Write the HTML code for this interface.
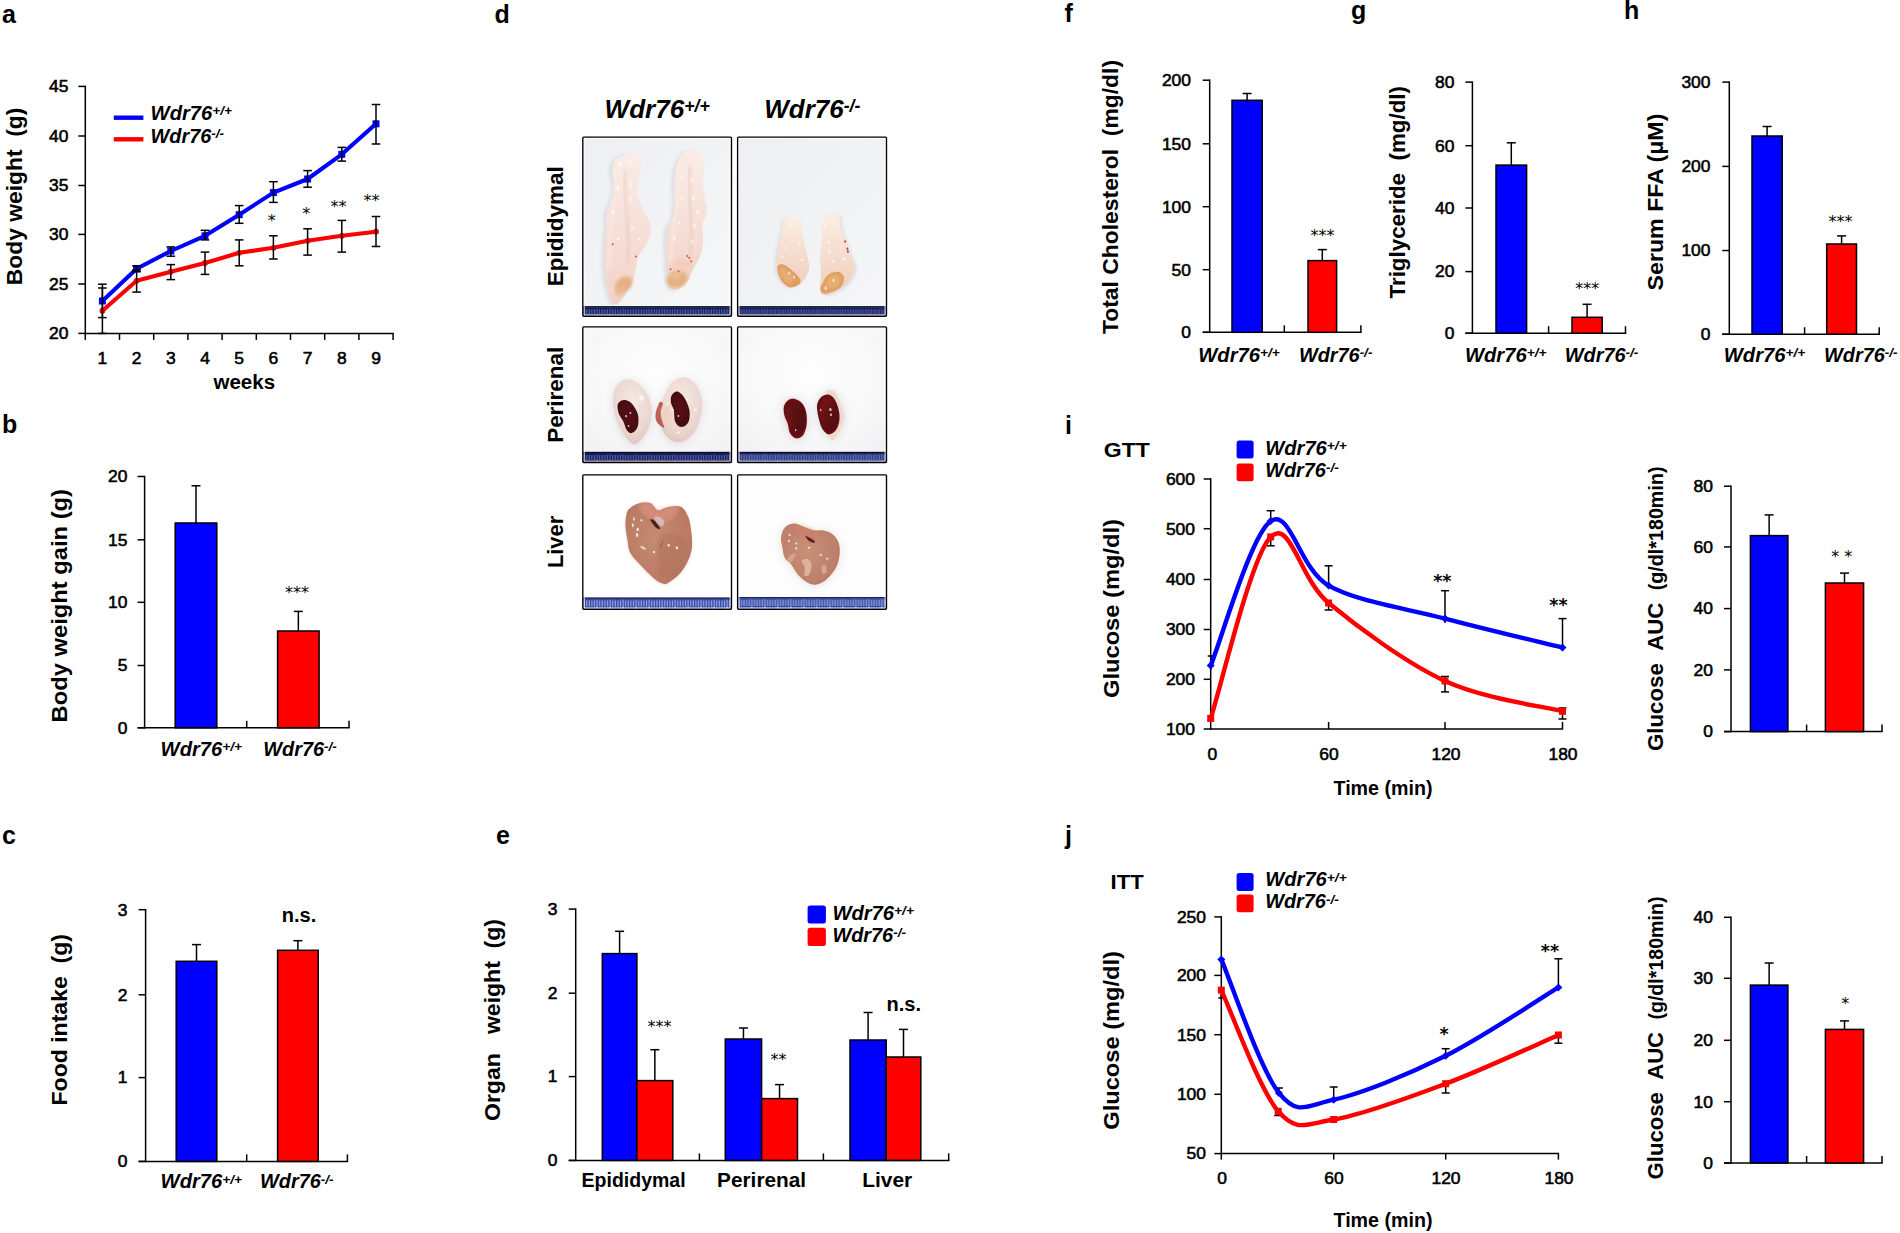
<!DOCTYPE html>
<html lang="en"><head><meta charset="utf-8"><title>Figure</title>
<style>
html,body{margin:0;padding:0;background:#fff;}
body{width:1900px;height:1233px;overflow:hidden;}
svg{display:block;font-family:'Liberation Sans', Arial, sans-serif;fill:#000;}
</style></head><body>
<svg width="1900" height="1233" viewBox="0 0 1900 1233">
<rect x="0" y="0" width="1900" height="1233" fill="#fff"/>
<text x="2" y="22.5" font-size="25" font-weight="bold">a</text>
<text x="22.2" y="285.2" font-size="22" font-weight="bold" transform="rotate(-90 22.2 285.2)" textLength="177.6" lengthAdjust="spacingAndGlyphs">Body weight  (g)</text>
<line x1="85.3" y1="85.65" x2="85.3" y2="334.15" stroke="#000" stroke-width="1.5" stroke-linecap="butt"/>
<line x1="78.3" y1="86.4" x2="85.3" y2="86.4" stroke="#000" stroke-width="1.5" stroke-linecap="butt"/>
<text x="68.5" y="92.2" font-size="16.4" text-anchor="end" textLength="19.4" lengthAdjust="spacingAndGlyphs" stroke="#000" stroke-width="0.55">45</text>
<line x1="78.3" y1="136" x2="85.3" y2="136" stroke="#000" stroke-width="1.5" stroke-linecap="butt"/>
<text x="68.5" y="141.8" font-size="16.4" text-anchor="end" textLength="19.4" lengthAdjust="spacingAndGlyphs" stroke="#000" stroke-width="0.55">40</text>
<line x1="78.3" y1="185.5" x2="85.3" y2="185.5" stroke="#000" stroke-width="1.5" stroke-linecap="butt"/>
<text x="68.5" y="191.3" font-size="16.4" text-anchor="end" textLength="19.4" lengthAdjust="spacingAndGlyphs" stroke="#000" stroke-width="0.55">35</text>
<line x1="78.3" y1="234.4" x2="85.3" y2="234.4" stroke="#000" stroke-width="1.5" stroke-linecap="butt"/>
<text x="68.5" y="240.2" font-size="16.4" text-anchor="end" textLength="19.4" lengthAdjust="spacingAndGlyphs" stroke="#000" stroke-width="0.55">30</text>
<line x1="78.3" y1="284" x2="85.3" y2="284" stroke="#000" stroke-width="1.5" stroke-linecap="butt"/>
<text x="68.5" y="289.8" font-size="16.4" text-anchor="end" textLength="19.4" lengthAdjust="spacingAndGlyphs" stroke="#000" stroke-width="0.55">25</text>
<line x1="78.3" y1="333.4" x2="85.3" y2="333.4" stroke="#000" stroke-width="1.5" stroke-linecap="butt"/>
<text x="68.5" y="339.2" font-size="16.4" text-anchor="end" textLength="19.4" lengthAdjust="spacingAndGlyphs" stroke="#000" stroke-width="0.55">20</text>
<line x1="84.7" y1="333.4" x2="393.8" y2="333.4" stroke="#000" stroke-width="1.5" stroke-linecap="butt"/>
<line x1="85.3" y1="333.4" x2="85.3" y2="339.9" stroke="#000" stroke-width="1.5" stroke-linecap="butt"/>
<line x1="119.5" y1="333.4" x2="119.5" y2="339.9" stroke="#000" stroke-width="1.5" stroke-linecap="butt"/>
<line x1="153.7" y1="333.4" x2="153.7" y2="339.9" stroke="#000" stroke-width="1.5" stroke-linecap="butt"/>
<line x1="187.9" y1="333.4" x2="187.9" y2="339.9" stroke="#000" stroke-width="1.5" stroke-linecap="butt"/>
<line x1="222.1" y1="333.4" x2="222.1" y2="339.9" stroke="#000" stroke-width="1.5" stroke-linecap="butt"/>
<line x1="256.3" y1="333.4" x2="256.3" y2="339.9" stroke="#000" stroke-width="1.5" stroke-linecap="butt"/>
<line x1="290.5" y1="333.4" x2="290.5" y2="339.9" stroke="#000" stroke-width="1.5" stroke-linecap="butt"/>
<line x1="324.7" y1="333.4" x2="324.7" y2="339.9" stroke="#000" stroke-width="1.5" stroke-linecap="butt"/>
<line x1="358.9" y1="333.4" x2="358.9" y2="339.9" stroke="#000" stroke-width="1.5" stroke-linecap="butt"/>
<line x1="393.1" y1="333.4" x2="393.1" y2="339.9" stroke="#000" stroke-width="1.5" stroke-linecap="butt"/>
<text x="102.4" y="363.5" font-size="16.4" text-anchor="middle" textLength="9.7" lengthAdjust="spacingAndGlyphs" stroke="#000" stroke-width="0.55">1</text>
<text x="136.6" y="363.5" font-size="16.4" text-anchor="middle" textLength="9.7" lengthAdjust="spacingAndGlyphs" stroke="#000" stroke-width="0.55">2</text>
<text x="170.8" y="363.5" font-size="16.4" text-anchor="middle" textLength="9.7" lengthAdjust="spacingAndGlyphs" stroke="#000" stroke-width="0.55">3</text>
<text x="205" y="363.5" font-size="16.4" text-anchor="middle" textLength="9.7" lengthAdjust="spacingAndGlyphs" stroke="#000" stroke-width="0.55">4</text>
<text x="239.2" y="363.5" font-size="16.4" text-anchor="middle" textLength="9.7" lengthAdjust="spacingAndGlyphs" stroke="#000" stroke-width="0.55">5</text>
<text x="273.4" y="363.5" font-size="16.4" text-anchor="middle" textLength="9.7" lengthAdjust="spacingAndGlyphs" stroke="#000" stroke-width="0.55">6</text>
<text x="307.6" y="363.5" font-size="16.4" text-anchor="middle" textLength="9.7" lengthAdjust="spacingAndGlyphs" stroke="#000" stroke-width="0.55">7</text>
<text x="341.8" y="363.5" font-size="16.4" text-anchor="middle" textLength="9.7" lengthAdjust="spacingAndGlyphs" stroke="#000" stroke-width="0.55">8</text>
<text x="376" y="363.5" font-size="16.4" text-anchor="middle" textLength="9.7" lengthAdjust="spacingAndGlyphs" stroke="#000" stroke-width="0.55">9</text>
<text x="244.3" y="388.6" font-size="20.5" font-weight="bold" text-anchor="middle" textLength="61.5" lengthAdjust="spacingAndGlyphs">weeks</text>
<polyline fill="none" stroke="#ff0000" stroke-width="4.1" stroke-linejoin="round" stroke-linecap="round" points="102.4,310.7 136.6,280.8 170.8,271.7 205,263 239.2,252.8 273.4,247.8 307.6,240.8 341.8,235.8 376,231.7"/>
<circle cx="102.4" cy="310.7" r="2.9" fill="#ff0000"/>
<circle cx="136.6" cy="280.8" r="2.9" fill="#ff0000"/>
<circle cx="170.8" cy="271.7" r="2.9" fill="#ff0000"/>
<circle cx="205" cy="263" r="2.9" fill="#ff0000"/>
<circle cx="239.2" cy="252.8" r="2.9" fill="#ff0000"/>
<circle cx="273.4" cy="247.8" r="2.9" fill="#ff0000"/>
<circle cx="307.6" cy="240.8" r="2.9" fill="#ff0000"/>
<circle cx="341.8" cy="235.8" r="2.9" fill="#ff0000"/>
<circle cx="376" cy="231.7" r="2.9" fill="#ff0000"/>
<polyline fill="none" stroke="#0000ff" stroke-width="4.1" stroke-linejoin="round" stroke-linecap="round" points="102.4,301 136.6,268.7 170.8,251 205,235.8 239.2,214.7 273.4,192.6 307.6,179 341.8,154.3 376,123.8"/>
<rect x="98.9" y="297.5" width="7" height="7" fill="#0000ff"/>
<rect x="133.1" y="265.2" width="7" height="7" fill="#0000ff"/>
<rect x="167.3" y="247.5" width="7" height="7" fill="#0000ff"/>
<rect x="201.5" y="232.3" width="7" height="7" fill="#0000ff"/>
<rect x="235.7" y="211.2" width="7" height="7" fill="#0000ff"/>
<rect x="269.9" y="189.1" width="7" height="7" fill="#0000ff"/>
<rect x="304.1" y="175.5" width="7" height="7" fill="#0000ff"/>
<rect x="338.3" y="150.8" width="7" height="7" fill="#0000ff"/>
<rect x="372.5" y="120.3" width="7" height="7" fill="#0000ff"/>
<line x1="102.4" y1="284.2" x2="102.4" y2="317.6" stroke="#000" stroke-width="1.5" stroke-linecap="butt"/>
<line x1="98.1" y1="284.2" x2="106.7" y2="284.2" stroke="#000" stroke-width="1.5" stroke-linecap="butt"/>
<line x1="98.1" y1="317.6" x2="106.7" y2="317.6" stroke="#000" stroke-width="1.5" stroke-linecap="butt"/>
<line x1="136.6" y1="265.8" x2="136.6" y2="271.7" stroke="#000" stroke-width="1.5" stroke-linecap="butt"/>
<line x1="132.3" y1="265.8" x2="140.9" y2="265.8" stroke="#000" stroke-width="1.5" stroke-linecap="butt"/>
<line x1="132.3" y1="271.7" x2="140.9" y2="271.7" stroke="#000" stroke-width="1.5" stroke-linecap="butt"/>
<line x1="170.8" y1="246.9" x2="170.8" y2="256.2" stroke="#000" stroke-width="1.5" stroke-linecap="butt"/>
<line x1="166.5" y1="246.9" x2="175.1" y2="246.9" stroke="#000" stroke-width="1.5" stroke-linecap="butt"/>
<line x1="166.5" y1="256.2" x2="175.1" y2="256.2" stroke="#000" stroke-width="1.5" stroke-linecap="butt"/>
<line x1="205" y1="230.3" x2="205" y2="239.9" stroke="#000" stroke-width="1.5" stroke-linecap="butt"/>
<line x1="200.7" y1="230.3" x2="209.3" y2="230.3" stroke="#000" stroke-width="1.5" stroke-linecap="butt"/>
<line x1="200.7" y1="239.9" x2="209.3" y2="239.9" stroke="#000" stroke-width="1.5" stroke-linecap="butt"/>
<line x1="239.2" y1="205.6" x2="239.2" y2="223.3" stroke="#000" stroke-width="1.5" stroke-linecap="butt"/>
<line x1="234.9" y1="205.6" x2="243.5" y2="205.6" stroke="#000" stroke-width="1.5" stroke-linecap="butt"/>
<line x1="234.9" y1="223.3" x2="243.5" y2="223.3" stroke="#000" stroke-width="1.5" stroke-linecap="butt"/>
<line x1="273.4" y1="181.7" x2="273.4" y2="202.4" stroke="#000" stroke-width="1.5" stroke-linecap="butt"/>
<line x1="269.1" y1="181.7" x2="277.7" y2="181.7" stroke="#000" stroke-width="1.5" stroke-linecap="butt"/>
<line x1="269.1" y1="202.4" x2="277.7" y2="202.4" stroke="#000" stroke-width="1.5" stroke-linecap="butt"/>
<line x1="307.6" y1="170.6" x2="307.6" y2="187.2" stroke="#000" stroke-width="1.5" stroke-linecap="butt"/>
<line x1="303.3" y1="170.6" x2="311.9" y2="170.6" stroke="#000" stroke-width="1.5" stroke-linecap="butt"/>
<line x1="303.3" y1="187.2" x2="311.9" y2="187.2" stroke="#000" stroke-width="1.5" stroke-linecap="butt"/>
<line x1="341.8" y1="147.4" x2="341.8" y2="161.1" stroke="#000" stroke-width="1.5" stroke-linecap="butt"/>
<line x1="337.5" y1="147.4" x2="346.1" y2="147.4" stroke="#000" stroke-width="1.5" stroke-linecap="butt"/>
<line x1="337.5" y1="161.1" x2="346.1" y2="161.1" stroke="#000" stroke-width="1.5" stroke-linecap="butt"/>
<line x1="376" y1="104.5" x2="376" y2="144" stroke="#000" stroke-width="1.5" stroke-linecap="butt"/>
<line x1="371.7" y1="104.5" x2="380.3" y2="104.5" stroke="#000" stroke-width="1.5" stroke-linecap="butt"/>
<line x1="371.7" y1="144" x2="380.3" y2="144" stroke="#000" stroke-width="1.5" stroke-linecap="butt"/>
<line x1="102.4" y1="288" x2="102.4" y2="333.4" stroke="#000" stroke-width="1.5" stroke-linecap="butt"/>
<line x1="98.1" y1="288" x2="106.7" y2="288" stroke="#000" stroke-width="1.5" stroke-linecap="butt"/>
<line x1="98.1" y1="333.4" x2="106.7" y2="333.4" stroke="#000" stroke-width="1.5" stroke-linecap="butt"/>
<line x1="136.6" y1="269.9" x2="136.6" y2="292.1" stroke="#000" stroke-width="1.5" stroke-linecap="butt"/>
<line x1="132.3" y1="269.9" x2="140.9" y2="269.9" stroke="#000" stroke-width="1.5" stroke-linecap="butt"/>
<line x1="132.3" y1="292.1" x2="140.9" y2="292.1" stroke="#000" stroke-width="1.5" stroke-linecap="butt"/>
<line x1="170.8" y1="264.6" x2="170.8" y2="279.6" stroke="#000" stroke-width="1.5" stroke-linecap="butt"/>
<line x1="166.5" y1="264.6" x2="175.1" y2="264.6" stroke="#000" stroke-width="1.5" stroke-linecap="butt"/>
<line x1="166.5" y1="279.6" x2="175.1" y2="279.6" stroke="#000" stroke-width="1.5" stroke-linecap="butt"/>
<line x1="205" y1="252.1" x2="205" y2="274.4" stroke="#000" stroke-width="1.5" stroke-linecap="butt"/>
<line x1="200.7" y1="252.1" x2="209.3" y2="252.1" stroke="#000" stroke-width="1.5" stroke-linecap="butt"/>
<line x1="200.7" y1="274.4" x2="209.3" y2="274.4" stroke="#000" stroke-width="1.5" stroke-linecap="butt"/>
<line x1="239.2" y1="239.9" x2="239.2" y2="265.8" stroke="#000" stroke-width="1.5" stroke-linecap="butt"/>
<line x1="234.9" y1="239.9" x2="243.5" y2="239.9" stroke="#000" stroke-width="1.5" stroke-linecap="butt"/>
<line x1="234.9" y1="265.8" x2="243.5" y2="265.8" stroke="#000" stroke-width="1.5" stroke-linecap="butt"/>
<line x1="273.4" y1="235.8" x2="273.4" y2="259" stroke="#000" stroke-width="1.5" stroke-linecap="butt"/>
<line x1="269.1" y1="235.8" x2="277.7" y2="235.8" stroke="#000" stroke-width="1.5" stroke-linecap="butt"/>
<line x1="269.1" y1="259" x2="277.7" y2="259" stroke="#000" stroke-width="1.5" stroke-linecap="butt"/>
<line x1="307.6" y1="228.8" x2="307.6" y2="255.1" stroke="#000" stroke-width="1.5" stroke-linecap="butt"/>
<line x1="303.3" y1="228.8" x2="311.9" y2="228.8" stroke="#000" stroke-width="1.5" stroke-linecap="butt"/>
<line x1="303.3" y1="255.1" x2="311.9" y2="255.1" stroke="#000" stroke-width="1.5" stroke-linecap="butt"/>
<line x1="341.8" y1="220.4" x2="341.8" y2="252.1" stroke="#000" stroke-width="1.5" stroke-linecap="butt"/>
<line x1="337.5" y1="220.4" x2="346.1" y2="220.4" stroke="#000" stroke-width="1.5" stroke-linecap="butt"/>
<line x1="337.5" y1="252.1" x2="346.1" y2="252.1" stroke="#000" stroke-width="1.5" stroke-linecap="butt"/>
<line x1="376" y1="216.5" x2="376" y2="246.5" stroke="#000" stroke-width="1.5" stroke-linecap="butt"/>
<line x1="371.7" y1="216.5" x2="380.3" y2="216.5" stroke="#000" stroke-width="1.5" stroke-linecap="butt"/>
<line x1="371.7" y1="246.5" x2="380.3" y2="246.5" stroke="#000" stroke-width="1.5" stroke-linecap="butt"/>
<line x1="113.8" y1="117.7" x2="143.4" y2="117.7" stroke="#0000ff" stroke-width="4.4" stroke-linecap="butt"/>
<line x1="113.8" y1="139.3" x2="143.4" y2="139.3" stroke="#ff0000" stroke-width="4.4" stroke-linecap="butt"/>
<text x="150.6" y="119.5" font-size="19.5" font-weight="bold" font-style="italic" textLength="81.5" lengthAdjust="spacingAndGlyphs">Wdr76<tspan dy="-4.68" font-size="13.26">+/+</tspan></text>
<text x="150.6" y="143.1" font-size="19.5" font-weight="bold" font-style="italic" textLength="73.5" lengthAdjust="spacingAndGlyphs">Wdr76<tspan dy="-4.68" font-size="13.26">-/-</tspan></text>
<text x="271.7" y="225.76" font-size="16" text-anchor="middle" font-family="DejaVu Sans, Liberation Sans, sans-serif">*</text>
<text x="306.2" y="218.56" font-size="16" text-anchor="middle" font-family="DejaVu Sans, Liberation Sans, sans-serif">*</text>
<text x="338.5" y="211.66" font-size="16" text-anchor="middle" font-family="DejaVu Sans, Liberation Sans, sans-serif">**</text>
<text x="371.6" y="206.46" font-size="16" text-anchor="middle" font-family="DejaVu Sans, Liberation Sans, sans-serif">**</text>
<text x="2" y="433" font-size="25" font-weight="bold">b</text>
<text x="66.7" y="722.5" font-size="22" font-weight="bold" transform="rotate(-90 66.7 722.5)" textLength="233.5" lengthAdjust="spacingAndGlyphs">Body weight gain (g)</text>
<line x1="144.6" y1="475.75" x2="144.6" y2="728.55" stroke="#000" stroke-width="1.5" stroke-linecap="butt"/>
<line x1="137.6" y1="476.5" x2="144.6" y2="476.5" stroke="#000" stroke-width="1.5" stroke-linecap="butt"/>
<text x="127.5" y="482.3" font-size="16.4" text-anchor="end" textLength="19.4" lengthAdjust="spacingAndGlyphs" stroke="#000" stroke-width="0.55">20</text>
<line x1="137.6" y1="539.8" x2="144.6" y2="539.8" stroke="#000" stroke-width="1.5" stroke-linecap="butt"/>
<text x="127.5" y="545.6" font-size="16.4" text-anchor="end" textLength="19.4" lengthAdjust="spacingAndGlyphs" stroke="#000" stroke-width="0.55">15</text>
<line x1="137.6" y1="602.3" x2="144.6" y2="602.3" stroke="#000" stroke-width="1.5" stroke-linecap="butt"/>
<text x="127.5" y="608.1" font-size="16.4" text-anchor="end" textLength="19.4" lengthAdjust="spacingAndGlyphs" stroke="#000" stroke-width="0.55">10</text>
<line x1="137.6" y1="665.5" x2="144.6" y2="665.5" stroke="#000" stroke-width="1.5" stroke-linecap="butt"/>
<text x="127.5" y="671.3" font-size="16.4" text-anchor="end" textLength="9.7" lengthAdjust="spacingAndGlyphs" stroke="#000" stroke-width="0.55">5</text>
<line x1="137.6" y1="727.8" x2="144.6" y2="727.8" stroke="#000" stroke-width="1.5" stroke-linecap="butt"/>
<text x="127.5" y="733.6" font-size="16.4" text-anchor="end" textLength="9.7" lengthAdjust="spacingAndGlyphs" stroke="#000" stroke-width="0.55">0</text>
<line x1="137.6" y1="727.8" x2="349.75" y2="727.8" stroke="#000" stroke-width="1.5" stroke-linecap="butt"/>
<line x1="246.7" y1="720.8" x2="246.7" y2="727.8" stroke="#000" stroke-width="1.5" stroke-linecap="butt"/>
<line x1="349" y1="720.8" x2="349" y2="727.8" stroke="#000" stroke-width="1.5" stroke-linecap="butt"/>
<line x1="196" y1="485.8" x2="196" y2="523" stroke="#000" stroke-width="1.5" stroke-linecap="butt"/>
<line x1="191.5" y1="485.8" x2="200.5" y2="485.8" stroke="#000" stroke-width="1.5" stroke-linecap="butt"/>
<rect x="175.2" y="523" width="41.6" height="204.8" fill="#0000ff" stroke="#000" stroke-width="1.5" rx="0"/>
<line x1="298.35" y1="611.4" x2="298.35" y2="631" stroke="#000" stroke-width="1.5" stroke-linecap="butt"/>
<line x1="293.85" y1="611.4" x2="302.85" y2="611.4" stroke="#000" stroke-width="1.5" stroke-linecap="butt"/>
<rect x="277.6" y="631" width="41.5" height="96.8" fill="#ff0000" stroke="#000" stroke-width="1.5" rx="0"/>
<text x="297" y="598.36" font-size="16" text-anchor="middle" font-family="DejaVu Sans, Liberation Sans, sans-serif">***</text>
<text x="160.6" y="755.8" font-size="20" font-weight="bold" font-style="italic" textLength="81.5" lengthAdjust="spacingAndGlyphs">Wdr76<tspan dy="-4.8" font-size="13.6">+/+</tspan></text>
<text x="263.3" y="755.8" font-size="20" font-weight="bold" font-style="italic" textLength="73.5" lengthAdjust="spacingAndGlyphs">Wdr76<tspan dy="-4.8" font-size="13.6">-/-</tspan></text>
<text x="2" y="843.5" font-size="25" font-weight="bold">c</text>
<text x="66.7" y="1105.5" font-size="22" font-weight="bold" transform="rotate(-90 66.7 1105.5)" textLength="171.5" lengthAdjust="spacingAndGlyphs">Food intake  (g)</text>
<line x1="145.6" y1="908.95" x2="145.6" y2="1162.15" stroke="#000" stroke-width="1.5" stroke-linecap="butt"/>
<line x1="138.6" y1="909.7" x2="145.6" y2="909.7" stroke="#000" stroke-width="1.5" stroke-linecap="butt"/>
<text x="127.5" y="915.5" font-size="16.4" text-anchor="end" textLength="9.7" lengthAdjust="spacingAndGlyphs" stroke="#000" stroke-width="0.55">3</text>
<line x1="138.6" y1="994.8" x2="145.6" y2="994.8" stroke="#000" stroke-width="1.5" stroke-linecap="butt"/>
<text x="127.5" y="1000.6" font-size="16.4" text-anchor="end" textLength="9.7" lengthAdjust="spacingAndGlyphs" stroke="#000" stroke-width="0.55">2</text>
<line x1="138.6" y1="1077.6" x2="145.6" y2="1077.6" stroke="#000" stroke-width="1.5" stroke-linecap="butt"/>
<text x="127.5" y="1083.4" font-size="16.4" text-anchor="end" textLength="9.7" lengthAdjust="spacingAndGlyphs" stroke="#000" stroke-width="0.55">1</text>
<line x1="138.6" y1="1161.4" x2="145.6" y2="1161.4" stroke="#000" stroke-width="1.5" stroke-linecap="butt"/>
<text x="127.5" y="1167.2" font-size="16.4" text-anchor="end" textLength="9.7" lengthAdjust="spacingAndGlyphs" stroke="#000" stroke-width="0.55">0</text>
<line x1="138.6" y1="1161.4" x2="348.15" y2="1161.4" stroke="#000" stroke-width="1.5" stroke-linecap="butt"/>
<line x1="246.7" y1="1154.4" x2="246.7" y2="1161.4" stroke="#000" stroke-width="1.5" stroke-linecap="butt"/>
<line x1="347.4" y1="1154.4" x2="347.4" y2="1161.4" stroke="#000" stroke-width="1.5" stroke-linecap="butt"/>
<line x1="196.5" y1="944.6" x2="196.5" y2="961.3" stroke="#000" stroke-width="1.5" stroke-linecap="butt"/>
<line x1="192" y1="944.6" x2="201" y2="944.6" stroke="#000" stroke-width="1.5" stroke-linecap="butt"/>
<rect x="176.2" y="961.3" width="40.6" height="200.1" fill="#0000ff" stroke="#000" stroke-width="1.5" rx="0"/>
<line x1="297.9" y1="940.7" x2="297.9" y2="950.3" stroke="#000" stroke-width="1.5" stroke-linecap="butt"/>
<line x1="293.4" y1="940.7" x2="302.4" y2="940.7" stroke="#000" stroke-width="1.5" stroke-linecap="butt"/>
<rect x="277.6" y="950.3" width="40.6" height="211.1" fill="#ff0000" stroke="#000" stroke-width="1.5" rx="0"/>
<text x="299" y="922.3" font-size="20" font-weight="bold" text-anchor="middle">n.s.</text>
<text x="160.6" y="1188.3" font-size="20" font-weight="bold" font-style="italic" textLength="81.5" lengthAdjust="spacingAndGlyphs">Wdr76<tspan dy="-4.8" font-size="13.6">+/+</tspan></text>
<text x="260" y="1188.3" font-size="20" font-weight="bold" font-style="italic" textLength="73.5" lengthAdjust="spacingAndGlyphs">Wdr76<tspan dy="-4.8" font-size="13.6">-/-</tspan></text>
<text x="494.5" y="23" font-size="25" font-weight="bold">d</text>
<text x="604.6" y="118.1" font-size="26.3" font-weight="bold" font-style="italic" textLength="105.2" lengthAdjust="spacingAndGlyphs">Wdr76<tspan dy="-6.31" font-size="17.88">+/+</tspan></text>
<text x="764.3" y="118.1" font-size="26.3" font-weight="bold" font-style="italic" textLength="96" lengthAdjust="spacingAndGlyphs">Wdr76<tspan dy="-6.31" font-size="17.88">-/-</tspan></text>
<text x="562.7" y="286.3" font-size="22.8" font-weight="bold" transform="rotate(-90 562.7 286.3)" textLength="120" lengthAdjust="spacingAndGlyphs">Epididymal</text>
<text x="562.7" y="442.8" font-size="22.8" font-weight="bold" transform="rotate(-90 562.7 442.8)" textLength="96" lengthAdjust="spacingAndGlyphs">Perirenal</text>
<text x="562.7" y="568.1" font-size="22.8" font-weight="bold" transform="rotate(-90 562.7 568.1)" textLength="52.3" lengthAdjust="spacingAndGlyphs">Liver</text>
<defs>
<filter id="b1" x="-20%" y="-20%" width="140%" height="140%"><feGaussianBlur stdDeviation="0.7"/></filter>
<filter id="b2" x="-30%" y="-30%" width="160%" height="160%"><feGaussianBlur stdDeviation="1.6"/></filter>
<filter id="b4" x="-50%" y="-50%" width="200%" height="200%"><feGaussianBlur stdDeviation="4"/></filter>
<linearGradient id="bgA" x1="0" y1="0" x2="1" y2="1"><stop offset="0" stop-color="#edeff2"/><stop offset="0.5" stop-color="#f2f3f5"/><stop offset="1" stop-color="#f7f8f9"/></linearGradient>
<linearGradient id="bgB" x1="0" y1="0" x2="1" y2="1"><stop offset="0" stop-color="#edeff1"/><stop offset="0.6" stop-color="#f2f3f5"/><stop offset="1" stop-color="#f7f7f8"/></linearGradient>
<radialGradient id="bgC" cx="0.5" cy="0.35" r="0.75"><stop offset="0" stop-color="#fdfdfd"/><stop offset="0.7" stop-color="#f7f7f8"/><stop offset="1" stop-color="#f0f0f2"/></radialGradient>
<linearGradient id="fat1" x1="0" y1="0" x2="0" y2="1"><stop offset="0" stop-color="#faece7"/><stop offset="0.5" stop-color="#f6e0d9"/><stop offset="1" stop-color="#f2d2c8"/></linearGradient>
<linearGradient id="fat2" x1="0" y1="0" x2="0" y2="1"><stop offset="0" stop-color="#faefe4"/><stop offset="0.45" stop-color="#f6dfd1"/><stop offset="1" stop-color="#f1cdbb"/></linearGradient>
<radialGradient id="tan" cx="0.45" cy="0.4" r="0.7"><stop offset="0" stop-color="#e9b184"/><stop offset="1" stop-color="#d98f5e"/></radialGradient>
<radialGradient id="tan2" cx="0.45" cy="0.4" r="0.7"><stop offset="0" stop-color="#e8a86c"/><stop offset="1" stop-color="#cf7a3c"/></radialGradient>
<radialGradient id="pfat" cx="0.5" cy="0.35" r="0.75"><stop offset="0" stop-color="#f5e9e3"/><stop offset="0.6" stop-color="#ecd8cf"/><stop offset="1" stop-color="#dcc0b5"/></radialGradient>
<radialGradient id="kid" cx="0.5" cy="0.45" r="0.7"><stop offset="0" stop-color="#5a1116"/><stop offset="1" stop-color="#3d0a0e"/></radialGradient>
<radialGradient id="kid2" cx="0.45" cy="0.4" r="0.75"><stop offset="0" stop-color="#7c151a"/><stop offset="0.7" stop-color="#5e0f13"/><stop offset="1" stop-color="#6e1a1a"/></radialGradient>
<radialGradient id="liv" cx="0.45" cy="0.45" r="0.7"><stop offset="0" stop-color="#c68b72"/><stop offset="0.7" stop-color="#ba7b63"/><stop offset="1" stop-color="#b07059"/></radialGradient>
<radialGradient id="liv2" cx="0.45" cy="0.45" r="0.7"><stop offset="0" stop-color="#c99078"/><stop offset="0.7" stop-color="#bd806a"/><stop offset="1" stop-color="#b2725c"/></radialGradient>
<pattern id="rulA" x="0" y="0" width="13" height="12" patternUnits="userSpaceOnUse"><rect width="13" height="12" fill="#161d52"/><g fill="#5f70c2"><rect x="0.6" y="1.5" width="1" height="7.5"/><rect x="3.2" y="2" width="1" height="5"/><rect x="5.8" y="2" width="1" height="5"/><rect x="8.4" y="2" width="1" height="5"/><rect x="11" y="2" width="1" height="5"/></g></pattern>
<pattern id="rulA2" x="0" y="0" width="13" height="12" patternUnits="userSpaceOnUse"><rect width="13" height="12" fill="#1a2262"/><g fill="#7f92e0"><rect x="0.6" y="1" width="1.1" height="8.5"/><rect x="3.2" y="1.5" width="1.1" height="6"/><rect x="5.8" y="1.5" width="1.1" height="6"/><rect x="8.4" y="1.5" width="1.1" height="6"/><rect x="11" y="1.5" width="1.1" height="6"/></g></pattern>
<pattern id="rulB" x="0" y="0" width="13" height="12" patternUnits="userSpaceOnUse"><rect width="13" height="12" fill="#2c3e98"/><g fill="#a3b2f0"><rect x="0.6" y="1" width="1.2" height="9.5"/><rect x="3.2" y="1.5" width="1.2" height="6.5"/><rect x="5.8" y="1.5" width="1.2" height="6.5"/><rect x="8.4" y="1.5" width="1.2" height="6.5"/><rect x="11" y="1.5" width="1.2" height="6.5"/></g></pattern>
</defs>
<clipPath id="cp1"><rect x="582.8" y="137.1" width="148.7" height="179.2"/></clipPath>
<g clip-path="url(#cp1)">
<rect x="582.8" y="137.1" width="148.7" height="179.2" fill="url(#bgA)"/>
<path d="M632.1,153.9C635.1,154.5 637,155.4 637.7,159.5C638.3,163.6 636.6,172.7 636.1,178.5C635.5,184.3 633.8,189 634.5,194.3C635.1,199.6 638,205.4 640,210.1C642,214.8 645,218.8 646.4,222.8C647.7,226.7 648.6,229.9 647.9,233.8C647.3,237.8 644.5,242.5 642.4,246.5C640.3,250.4 636.9,253.6 635.3,257.6C633.6,261.5 633.5,266 632.6,270.2C631.7,274.4 631.1,279.2 629.7,282.9C628.3,286.6 626.2,289.2 624.2,292.4C622.2,295.5 620,299.7 617.9,301.9C615.8,304 613.4,305.6 611.6,305C609.7,304.5 608.3,302.7 606.8,298.7C605.4,294.7 603.8,286.8 602.8,281.3C601.9,275.8 601.3,272.1 601.3,265.5C601.2,258.9 602,248.3 602.4,241.7C602.7,235.2 603.1,230.7 603.3,225.9C603.5,221.2 602.6,217.7 603.6,213.3C604.7,208.8 608.3,203.5 609.7,199C611,194.5 611.6,190.6 611.6,186.4C611.5,182.2 609.2,177.7 609.2,173.7C609.2,169.8 609.8,165.5 611.6,162.6C613.3,159.7 616,157.8 619.5,156.3C622.9,154.9 629.1,153.4 632.1,153.9Z" fill="#c4cad4" filter="url(#b2)" opacity="0.45" />
<path d="M689.1,150.8C692.2,150.8 696.6,151.4 698.6,154.7C700.5,158 700.7,165.3 700.9,170.6C701.2,175.8 699.9,181.1 700.1,186.4C700.4,191.6 701.9,197.7 702.5,202.2C703.2,206.7 704.6,209.3 704.1,213.3C703.6,217.2 700,221.2 699.4,225.9C698.7,230.7 700.5,236.5 700.1,241.7C699.7,247 698.7,252.8 697,257.6C695.3,262.3 691.7,266.5 689.9,270.2C688,273.9 687.6,276.8 685.9,279.7C684.2,282.6 682.2,285.8 679.6,287.6C676.9,289.5 672.5,291.6 670.1,290.8C667.7,290 666.1,287.1 665,282.9C664,278.7 664.1,272.3 663.8,265.5C663.4,258.6 662.8,247.8 663,241.7C663.1,235.7 663.4,232.8 664.5,229.1C665.7,225.4 668.6,224.1 669.8,219.6C671,215.1 671.5,208.3 671.7,202.2C671.9,196.1 670.6,189 670.9,183.2C671.1,177.4 671.8,172.1 673.2,167.4C674.7,162.6 676.9,157.5 679.6,154.7C682.2,152 685.9,150.8 689.1,150.8Z" fill="#c4cad4" filter="url(#b2)" opacity="0.45" />
<path d="M635.1,152.9C638.1,153.5 640,154.4 640.7,158.5C641.3,162.6 639.6,171.7 639.1,177.5C638.5,183.3 636.8,188 637.5,193.3C638.1,198.6 641,204.4 643,209.1C645,213.8 648,217.8 649.4,221.8C650.7,225.7 651.6,228.9 650.9,232.8C650.3,236.8 647.5,241.5 645.4,245.5C643.3,249.4 639.9,252.6 638.3,256.6C636.6,260.5 636.5,265 635.6,269.2C634.7,273.4 634.1,278.2 632.7,281.9C631.3,285.6 629.2,288.2 627.2,291.4C625.2,294.5 623,298.7 620.9,300.9C618.8,303 616.4,304.6 614.6,304C612.7,303.5 611.3,301.7 609.8,297.7C608.4,293.7 606.8,285.8 605.8,280.3C604.9,274.8 604.3,271.1 604.3,264.5C604.2,257.9 605,247.3 605.4,240.7C605.7,234.2 606.1,229.7 606.3,224.9C606.5,220.2 605.6,216.7 606.6,212.3C607.7,207.8 611.3,202.5 612.7,198C614,193.5 614.6,189.6 614.6,185.4C614.5,181.2 612.2,176.7 612.2,172.7C612.2,168.8 612.8,164.5 614.6,161.6C616.3,158.7 619,156.8 622.5,155.3C625.9,153.9 632.1,152.4 635.1,152.9Z" fill="url(#fat1)" filter="url(#b1)" />
<path d="M692.1,149.8C695.2,149.8 699.6,150.4 701.6,153.7C703.5,157 703.7,164.3 703.9,169.6C704.2,174.8 702.9,180.1 703.1,185.4C703.4,190.6 704.9,196.7 705.5,201.2C706.2,205.7 707.6,208.3 707.1,212.3C706.6,216.2 703,220.2 702.4,224.9C701.7,229.7 703.5,235.5 703.1,240.7C702.7,246 701.7,251.8 700,256.6C698.3,261.3 694.7,265.5 692.9,269.2C691,272.9 690.6,275.8 688.9,278.7C687.2,281.6 685.2,284.8 682.6,286.6C679.9,288.5 675.5,290.6 673.1,289.8C670.7,289 669.1,286.1 668,281.9C667,277.7 667.1,271.3 666.8,264.5C666.4,257.6 665.8,246.8 666,240.7C666.1,234.7 666.4,231.8 667.5,228.1C668.7,224.4 671.6,223.1 672.8,218.6C674,214.1 674.5,207.3 674.7,201.2C674.9,195.1 673.6,188 673.9,182.2C674.1,176.4 674.8,171.1 676.2,166.4C677.7,161.6 679.9,156.5 682.6,153.7C685.2,151 688.9,149.8 692.1,149.8Z" fill="url(#fat1)" filter="url(#b1)" />
<ellipse cx="623.8" cy="284.3" rx="9.5" ry="7" fill="#e4b080" transform="rotate(-38 623.8 284.3)" filter="url(#b2)" opacity="0.95"/>
<ellipse cx="620" cy="291" rx="6" ry="4.5" fill="#e8b88e" transform="rotate(-50 620 291)" filter="url(#b2)" opacity="0.8"/>
<ellipse cx="677.2" cy="279" rx="11" ry="8.5" fill="#e4b07e" transform="rotate(-25 677.2 279)" filter="url(#b2)" opacity="0.95"/>
<ellipse cx="676" cy="276" rx="5" ry="3.5" fill="#edc39c" transform="rotate(-25 676 276)" filter="url(#b2)" opacity="0.8"/>
<path d="M625,170 C622,200 632,230 628,262" stroke="#e6bba8" stroke-width="3" fill="none" filter="url(#b2)" opacity="0.4"/>
<path d="M690,165 C686,200 696,228 690,258" stroke="#e6bba8" stroke-width="3" fill="none" filter="url(#b2)" opacity="0.4"/>
<path d="M617,165 C612,200 610,235 608,270" stroke="#f9ece4" stroke-width="3" fill="none" filter="url(#b2)" opacity="0.6"/>
<path d="M682,160 C678,195 674,225 670,262" stroke="#f9ece4" stroke-width="3" fill="none" filter="url(#b2)" opacity="0.6"/>
<path d="M671.5,264.5C672,262.4 676.2,258.9 679.4,258.1C682.6,257.4 688.4,258.1 690.5,259.7C692.6,261.3 692.9,265.5 692.1,267.6C691.3,269.7 688.4,271.9 685.7,272.4C683.1,272.9 678.6,272.1 676.2,270.8C673.9,269.5 671,266.6 671.5,264.5Z" fill="#f3cdbb" filter="url(#b2)" opacity="0.8" />
<ellipse cx="619.3" cy="164" rx="1.5" ry="2.7" fill="#fffaf6" transform="rotate(-20 619.3 164)" filter="url(#b1)" opacity="0.8"/>
<ellipse cx="629.6" cy="162.4" rx="1.1" ry="2.3" fill="#fffaf6" transform="rotate(-15 629.6 162.4)" filter="url(#b1)" opacity="0.8"/>
<ellipse cx="631.2" cy="184.6" rx="1.1" ry="2.7" fill="#fffaf6" filter="url(#b1)" opacity="0.8"/>
<ellipse cx="617.7" cy="187.7" rx="1.3" ry="2.3" fill="#fffaf6" transform="rotate(-30 617.7 187.7)" filter="url(#b1)" opacity="0.8"/>
<ellipse cx="630.4" cy="199.6" rx="1.1" ry="1.9" fill="#fffaf6" filter="url(#b1)" opacity="0.8"/>
<ellipse cx="613" cy="212.3" rx="1.5" ry="1.9" fill="#fffaf6" filter="url(#b1)" opacity="0.8"/>
<ellipse cx="632" cy="228.9" rx="1.9" ry="1.5" fill="#fffaf6" transform="rotate(-30 632 228.9)" filter="url(#b1)" opacity="0.8"/>
<ellipse cx="639.1" cy="239.2" rx="1.7" ry="1.3" fill="#fffaf6" transform="rotate(-20 639.1 239.2)" filter="url(#b1)" opacity="0.8"/>
<ellipse cx="618.5" cy="239.2" rx="1.9" ry="1.1" fill="#fffaf6" filter="url(#b1)" opacity="0.8"/>
<ellipse cx="681.8" cy="176.7" rx="1.3" ry="1.9" fill="#fffaf6" transform="rotate(-30 681.8 176.7)" filter="url(#b1)" opacity="0.8"/>
<ellipse cx="692.1" cy="180.6" rx="1.3" ry="1.7" fill="#fffaf6" transform="rotate(-30 692.1 180.6)" filter="url(#b1)" opacity="0.8"/>
<ellipse cx="693.3" cy="198.3" rx="1.3" ry="2.3" fill="#fffaf6" transform="rotate(-20 693.3 198.3)" filter="url(#b1)" opacity="0.8"/>
<ellipse cx="681.8" cy="198.8" rx="1.1" ry="1.7" fill="#fffaf6" filter="url(#b1)" opacity="0.8"/>
<ellipse cx="697.6" cy="211.9" rx="1.5" ry="1.9" fill="#fffaf6" transform="rotate(-20 697.6 211.9)" filter="url(#b1)" opacity="0.8"/>
<ellipse cx="694.4" cy="225.7" rx="1.7" ry="1.5" fill="#fffaf6" transform="rotate(-20 694.4 225.7)" filter="url(#b1)" opacity="0.8"/>
<ellipse cx="674.4" cy="238.4" rx="1.1" ry="2.3" fill="#fffaf6" transform="rotate(10 674.4 238.4)" filter="url(#b1)" opacity="0.8"/>
<ellipse cx="692.1" cy="241.5" rx="0.9" ry="1.9" fill="#fffaf6" transform="rotate(20 692.1 241.5)" filter="url(#b1)" opacity="0.8"/>
<ellipse cx="679.4" cy="223.3" rx="1.1" ry="1.5" fill="#fffaf6" filter="url(#b1)" opacity="0.8"/>
<ellipse cx="612.7" cy="244.2" rx="1" ry="1" fill="#d63a3a" filter="url(#b1)" opacity="0.85"/>
<ellipse cx="635.9" cy="256.6" rx="1" ry="1" fill="#d63a3a" filter="url(#b1)" opacity="0.85"/>
<ellipse cx="687.3" cy="256.1" rx="1" ry="1" fill="#d63a3a" filter="url(#b1)" opacity="0.85"/>
<ellipse cx="689.2" cy="258.1" rx="1" ry="1" fill="#d63a3a" filter="url(#b1)" opacity="0.85"/>
<ellipse cx="670.6" cy="269.2" rx="1" ry="1" fill="#d63a3a" filter="url(#b1)" opacity="0.85"/>
<ellipse cx="678.6" cy="271.3" rx="1" ry="1" fill="#d63a3a" filter="url(#b1)" opacity="0.85"/>
<ellipse cx="691.3" cy="261.3" rx="1" ry="1" fill="#d63a3a" filter="url(#b1)" opacity="0.85"/>
<rect x="582.8" y="306.1" width="148.7" height="1.6" fill="#0b0f2a"/>
<g transform="translate(582.8 307.3)"><rect x="0" y="0" width="148.7" height="9" fill="url(#rulA)" filter="url(#b1)"/></g>
</g>
<rect x="584.1" y="138.4" width="146.1" height="176.6" fill="none" stroke="#fff" stroke-width="1.2" opacity="0.85"/>
<rect x="582.8" y="137.1" width="148.7" height="179.2" fill="none" stroke="#000" stroke-width="1.35" rx="1"/>
<clipPath id="cp2"><rect x="737.6" y="137.1" width="148.9" height="179.2"/></clipPath>
<g clip-path="url(#cp2)">
<rect x="737.6" y="137.1" width="148.9" height="179.2" fill="url(#bgB)"/>
<path d="M788.9,216.4C791.4,216.2 795,217 796.8,219.6C798.7,222.2 799.1,228 800,232.2C800.9,236.5 801.4,240.7 802.4,244.9C803.3,249.1 804.7,253.6 805.5,257.6C806.3,261.5 807.4,265.2 807.1,268.6C806.8,272.1 805.5,275.4 803.9,278.1C802.4,280.9 800.2,283.7 797.6,285.2C795,286.8 791,288 788.1,287.6C785.2,287.2 782.3,285.2 780.2,282.9C778.1,280.5 776.4,277.1 775.5,273.4C774.5,269.7 774.4,265.2 774.7,260.7C774.9,256.2 776.1,251.2 777,246.5C778,241.7 779.4,236.5 780.2,232.2C781,228 780.3,223.8 781.8,221.2C783.2,218.5 786.4,216.7 788.9,216.4Z" fill="#c4cad4" filter="url(#b2)" opacity="0.45" />
<path d="M833.2,214.1C835.6,214.1 839.6,214.7 841.2,217.2C842.7,219.7 841.7,225 842.7,229.1C843.8,233.2 845.9,237.3 847.5,241.7C849.1,246.2 850.7,251.8 852.2,256C853.8,260.2 856.7,263.4 857,267.1C857.2,270.7 855.7,274.7 853.8,278.1C852,281.6 849.1,285 845.9,287.6C842.7,290.3 838.3,292.6 834.8,293.9C831.4,295.3 827.4,296.3 825.3,295.5C823.2,294.7 822.6,292.9 822.2,289.2C821.8,285.5 823,278.7 823,273.4C823,268.1 822,262.8 822.2,257.6C822.3,252.3 823.4,247 823.8,241.7C824.2,236.5 824,230 824.5,225.9C825.1,221.8 825.5,219.2 826.9,217.2C828.4,215.2 830.9,214.1 833.2,214.1Z" fill="#c4cad4" filter="url(#b2)" opacity="0.45" />
<path d="M790.9,215.4C793.4,215.2 797,216 798.8,218.6C800.7,221.2 801.1,227 802,231.2C802.9,235.5 803.4,239.7 804.4,243.9C805.3,248.1 806.7,252.6 807.5,256.6C808.3,260.5 809.4,264.2 809.1,267.6C808.8,271.1 807.5,274.4 805.9,277.1C804.4,279.9 802.2,282.7 799.6,284.2C797,285.8 793,287 790.1,286.6C787.2,286.2 784.3,284.2 782.2,281.9C780.1,279.5 778.4,276.1 777.5,272.4C776.5,268.7 776.4,264.2 776.7,259.7C776.9,255.2 778.1,250.2 779,245.5C780,240.7 781.4,235.5 782.2,231.2C783,227 782.3,222.8 783.8,220.2C785.2,217.5 788.4,215.7 790.9,215.4Z" fill="url(#fat2)" filter="url(#b1)" />
<path d="M831.2,213.1C833.6,213.1 837.6,213.7 839.2,216.2C840.7,218.7 839.7,224 840.7,228.1C841.8,232.2 843.9,236.3 845.5,240.7C847.1,245.2 848.7,250.8 850.2,255C851.8,259.2 854.7,262.4 855,266.1C855.2,269.7 853.7,273.7 851.8,277.1C850,280.6 847.1,284 843.9,286.6C840.7,289.3 836.3,291.6 832.8,292.9C829.4,294.3 825.4,295.3 823.3,294.5C821.2,293.7 820.6,291.9 820.2,288.2C819.8,284.5 821,277.7 821,272.4C821,267.1 820,261.8 820.2,256.6C820.3,251.3 821.4,246 821.8,240.7C822.2,235.5 822,229 822.5,224.9C823.1,220.8 823.5,218.2 824.9,216.2C826.4,214.2 828.9,213.1 831.2,213.1Z" fill="url(#fat2)" filter="url(#b1)" />
<path d="M777.7,265.9C778.6,264.3 781.3,263.8 783.9,264.7C786.4,265.6 790.4,268.9 793.1,271.3C795.8,273.6 799.1,276.8 800,279C801,281.1 800.6,282.9 798.9,284.4C797.2,285.8 792.7,287.7 790,287.4C787.4,287.2 785,285 783.1,282.8C781.2,280.6 779.4,277.2 778.5,274.3C777.6,271.5 776.8,267.5 777.7,265.9Z" fill="#de9d5e" filter="url(#b1)" opacity="0.95" />
<path d="M780,268.9C780.4,267.5 782.8,268 784.6,268.9C786.4,269.8 789.4,272.4 790.8,274.3C792.2,276.3 793.6,279.1 793.1,280.5C792.6,281.9 789.5,283.3 787.7,282.8C785.9,282.3 783.6,279.7 782.3,277.4C781,275.1 779.6,270.4 780,268.9Z" fill="#e8b276" filter="url(#b2)" opacity="0.8" />
<path d="M825.5,277.4C826.9,275.9 829.3,273.7 831.6,272.8C833.9,271.9 837.3,271.3 839.3,272C841.4,272.8 843.6,275.1 844,277.4C844.3,279.7 843.3,283.6 841.6,285.9C840,288.2 836.9,290 833.9,291.3C831,292.6 826.2,294 823.9,293.6C821.6,293.2 820.4,290.9 820.2,289C820.1,287 822.3,284 823.2,282C824,280.1 824.1,279 825.5,277.4Z" fill="#df9f60" filter="url(#b1)" opacity="0.95" />
<path d="M828.6,279C829.7,277.3 832.1,275.5 833.9,275.1C835.7,274.7 838.6,275.1 839.3,276.6C840.1,278.2 839.9,282.4 838.6,284.4C837.3,286.3 833.6,288.1 831.6,288.2C829.7,288.3 827.5,286.7 827,285.1C826.5,283.6 827.4,280.6 828.6,279Z" fill="#e9b378" filter="url(#b2)" opacity="0.8" />
<ellipse cx="784.6" cy="247.9" rx="0.9" ry="1.5" fill="#fffaf6" filter="url(#b1)" opacity="0.8"/>
<ellipse cx="782.2" cy="256.6" rx="0.9" ry="1.5" fill="#fffaf6" filter="url(#b1)" opacity="0.8"/>
<ellipse cx="799.6" cy="243.1" rx="1.1" ry="1.5" fill="#fffaf6" filter="url(#b1)" opacity="0.8"/>
<ellipse cx="802" cy="259.7" rx="1.3" ry="1.5" fill="#fffaf6" filter="url(#b1)" opacity="0.8"/>
<ellipse cx="790.9" cy="224.9" rx="1.5" ry="1.1" fill="#fffaf6" filter="url(#b1)" opacity="0.8"/>
<ellipse cx="789.3" cy="273.2" rx="0.9" ry="1.5" fill="#fffaf6" filter="url(#b1)" opacity="0.8"/>
<ellipse cx="794.1" cy="277.1" rx="0.9" ry="1.5" fill="#fffaf6" filter="url(#b1)" opacity="0.8"/>
<ellipse cx="824.9" cy="226.5" rx="1.1" ry="1.5" fill="#fffaf6" filter="url(#b1)" opacity="0.8"/>
<ellipse cx="828.9" cy="242.3" rx="1.1" ry="1.7" fill="#fffaf6" filter="url(#b1)" opacity="0.8"/>
<ellipse cx="829.4" cy="251.8" rx="1.1" ry="1.5" fill="#fffaf6" filter="url(#b1)" opacity="0.8"/>
<ellipse cx="832.8" cy="261.3" rx="1.3" ry="1.3" fill="#fffaf6" filter="url(#b1)" opacity="0.8"/>
<ellipse cx="843.9" cy="258.9" rx="1.3" ry="1.3" fill="#fffaf6" filter="url(#b1)" opacity="0.8"/>
<ellipse cx="833.6" cy="223.3" rx="1.3" ry="1.1" fill="#fffaf6" filter="url(#b1)" opacity="0.8"/>
<ellipse cx="833.6" cy="280.3" rx="1.1" ry="1.5" fill="#fffaf6" filter="url(#b1)" opacity="0.8"/>
<ellipse cx="825.7" cy="288.2" rx="1.1" ry="1.9" fill="#fffaf6" filter="url(#b1)" opacity="0.8"/>
<ellipse cx="845.2" cy="241.5" rx="1" ry="1.3" fill="#c8302c" filter="url(#b1)" opacity="0.9"/>
<ellipse cx="847.4" cy="248.7" rx="1" ry="1.3" fill="#c8302c" filter="url(#b1)" opacity="0.9"/>
<ellipse cx="847.9" cy="251.5" rx="1" ry="1.3" fill="#c8302c" filter="url(#b1)" opacity="0.9"/>
<rect x="737.6" y="306.1" width="148.9" height="1.6" fill="#0b0f2a"/>
<g transform="translate(737.6 307.3)"><rect x="0" y="0" width="148.9" height="9" fill="url(#rulA)" filter="url(#b1)"/></g>
</g>
<rect x="738.9" y="138.4" width="146.3" height="176.6" fill="none" stroke="#fff" stroke-width="1.2" opacity="0.85"/>
<rect x="737.6" y="137.1" width="148.9" height="179.2" fill="none" stroke="#000" stroke-width="1.35" rx="1"/>
<clipPath id="cp3"><rect x="582.8" y="326.8" width="148.7" height="135.7"/></clipPath>
<g clip-path="url(#cp3)">
<rect x="582.8" y="326.8" width="148.7" height="135.7" fill="url(#bgC)"/>
<path d="M628.5,380.9C631.6,381.1 635,382.1 638.3,384.8C641.5,387.5 645.8,392.3 648,396.9C650.2,401.6 651.6,407.5 651.7,412.8C651.8,418 650.3,423.9 648.6,428.6C646.9,433.2 643.9,437.9 641.3,440.8C638.8,443.6 636.3,446.4 633.4,445.6C630.5,444.8 626.5,439.9 623.7,435.9C620.8,431.8 618.1,426.1 616.4,421.3C614.6,416.4 613.7,411.1 613.3,406.7C612.9,402.2 612.8,398.4 613.9,394.5C615.1,390.7 617.6,385.8 620,383.6C622.5,381.3 625.5,380.7 628.5,380.9Z" fill="#c8c8cc" filter="url(#b4)" opacity="0.6" />
<path d="M683.3,378.7C686.7,378.3 689.4,380.5 691.8,382.3C694.3,384.2 696.2,386 697.9,389.6C699.6,393.3 701.8,399.4 702.2,404.2C702.6,409.1 701.7,414 700.3,418.8C699,423.7 696.9,429.6 694.3,433.4C691.6,437.3 687.8,440.3 684.5,442C681.3,443.6 677.9,444 674.8,443.2C671.6,442.4 667.8,439.5 665.7,437.1C663.5,434.7 662.8,430.8 661.6,428.6C660.5,426.4 659.1,427.4 659,423.7C658.8,420.1 659.8,411.3 660.8,406.7C661.8,402 663.3,399.4 665,395.7C666.8,392.1 668.1,387.6 671.1,384.8C674.2,381.9 679.9,379.1 683.3,378.7Z" fill="#c8c8cc" filter="url(#b4)" opacity="0.6" />
<path d="M628.5,379.4C631.6,379.6 635,380.6 638.3,383.3C641.5,386 645.8,390.8 648,395.4C650.2,400.1 651.6,406 651.7,411.3C651.8,416.5 650.3,422.4 648.6,427.1C646.9,431.7 643.9,436.4 641.3,439.3C638.8,442.1 636.3,444.9 633.4,444.1C630.5,443.3 626.5,438.4 623.7,434.4C620.8,430.3 618.1,424.6 616.4,419.8C614.6,414.9 613.7,409.6 613.3,405.2C612.9,400.7 612.8,396.9 613.9,393C615.1,389.2 617.6,384.3 620,382.1C622.5,379.8 625.5,379.2 628.5,379.4Z" fill="url(#pfat)" filter="url(#b1)" />
<path d="M683.3,377.2C686.7,376.8 689.4,379 691.8,380.8C694.3,382.7 696.2,384.5 697.9,388.1C699.6,391.8 701.8,397.9 702.2,402.7C702.6,407.6 701.7,412.5 700.3,417.3C699,422.2 696.9,428.1 694.3,431.9C691.6,435.8 687.8,438.8 684.5,440.5C681.3,442.1 677.9,442.5 674.8,441.7C671.6,440.9 667.8,438 665.7,435.6C663.5,433.2 662.8,429.3 661.6,427.1C660.5,424.9 659.1,425.9 659,422.2C658.8,418.6 659.8,409.8 660.8,405.2C661.8,400.5 663.3,397.9 665,394.2C666.8,390.6 668.1,386.1 671.1,383.3C674.2,380.4 679.9,377.6 683.3,377.2Z" fill="url(#pfat)" filter="url(#b1)" />
<path d="M660.2,401.8C661,401.4 662.8,402.2 662.9,404C663,405.7 660.8,409.4 660.8,412.5C660.7,415.5 662,419.7 662.6,422.2C663.2,424.7 664.7,427.1 664.4,427.7C664.1,428.3 662.1,427 660.8,425.9C659.4,424.7 657.1,423.1 656.3,421C655.4,418.9 655.4,415.5 655.7,413.1C655.9,410.7 657,408.3 657.7,406.4C658.5,404.5 659.3,402.2 660.2,401.8Z" fill="#b5483c" filter="url(#b1)" opacity="0.85" />
<path d="M662.6,407.6C663.7,405.6 667.1,404.4 668.7,405.2C670.3,406 671.9,409.8 672.3,412.5C672.8,415.1 672.2,419.2 671.1,421C670,422.8 667.2,424 665.7,423.4C664.1,422.8 662.5,420 662,417.3C661.5,414.7 661.5,409.6 662.6,407.6Z" fill="#efd2c2" filter="url(#b2)" opacity="0.9" />
<path d="M617.6,405.2C617.9,403 619.2,401.7 620.6,400.9C622.1,400.1 624.2,399.8 626.1,400.3C628,400.8 630.3,401.7 632.2,404C634.1,406.2 636.7,410.5 637.7,413.7C638.7,416.9 638.6,420.7 638.3,423.4C638,426.2 637.1,428.5 635.8,430.1C634.6,431.7 632.5,433.2 631,433.2C629.5,433.2 628,432.2 626.7,430.1C625.4,428.1 624.4,423.7 623.1,421C621.7,418.3 619.7,416.3 618.8,413.7C617.9,411.1 617.3,407.3 617.6,405.2Z" fill="url(#kid)" filter="url(#b1)" />
<path d="M671.1,396.7C671.6,394.8 673,393.2 674.2,392.4C675.4,391.6 676.7,390.9 678.4,391.8C680.2,392.7 682.7,394.8 684.5,397.9C686.3,400.9 688.7,406.2 689.4,410C690.1,413.9 689.7,418.3 688.8,421C687.9,423.7 685.6,425.7 683.9,426.5C682.2,427.3 680,426.9 678.4,425.9C676.9,424.9 675.6,423 674.8,420.4C674,417.8 674.4,412.9 673.8,410C673.2,407.2 671.6,405.6 671.1,403.4C670.7,401.1 670.6,398.5 671.1,396.7Z" fill="url(#kid)" filter="url(#b1)" />
<ellipse cx="641.3" cy="397.9" rx="2" ry="3.2" fill="#ffffff" transform="rotate(-30 641.3 397.9)" filter="url(#b1)" opacity="0.8"/>
<ellipse cx="626.1" cy="416.1" rx="0.9" ry="1.2" fill="#ffffff" filter="url(#b1)" opacity="0.8"/>
<ellipse cx="630.4" cy="413.1" rx="0.9" ry="1" fill="#ffffff" filter="url(#b1)" opacity="0.8"/>
<ellipse cx="628.5" cy="425.9" rx="0.9" ry="0.9" fill="#ffffff" filter="url(#b1)" opacity="0.8"/>
<ellipse cx="672.3" cy="410" rx="1.5" ry="0.9" fill="#ffffff" filter="url(#b1)" opacity="0.8"/>
<ellipse cx="678.4" cy="416.1" rx="0.9" ry="1" fill="#ffffff" filter="url(#b1)" opacity="0.8"/>
<ellipse cx="695.5" cy="410" rx="1.5" ry="1.2" fill="#ffffff" filter="url(#b1)" opacity="0.8"/>
<ellipse cx="678.4" cy="432.6" rx="1.5" ry="1" fill="#ffffff" filter="url(#b1)" opacity="0.8"/>
<ellipse cx="667.5" cy="404" rx="0.9" ry="0.9" fill="#ffffff" filter="url(#b1)" opacity="0.8"/>
<ellipse cx="686.9" cy="399.7" rx="0.9" ry="1.2" fill="#ffffff" filter="url(#b1)" opacity="0.8"/>
<rect x="582.8" y="451.8" width="148.7" height="1.6" fill="#0b0f2a"/>
<g transform="translate(582.8 453)"><rect x="0" y="0" width="148.7" height="9.5" fill="url(#rulA)" filter="url(#b1)"/></g>
</g>
<rect x="584.1" y="328.1" width="146.1" height="133.1" fill="none" stroke="#fff" stroke-width="1.2" opacity="0.85"/>
<rect x="582.8" y="326.8" width="148.7" height="135.7" fill="none" stroke="#000" stroke-width="1.35" rx="1"/>
<clipPath id="cp4"><rect x="737.6" y="326.8" width="148.9" height="135.7"/></clipPath>
<g clip-path="url(#cp4)">
<rect x="737.6" y="326.8" width="148.9" height="135.7" fill="url(#bgC)"/>
<path d="M782.3,405.2C783.3,402.3 786.1,399.1 788.4,397.9C790.7,396.7 793.7,396.9 796.3,397.9C799,398.9 802.3,401.3 804.2,404C806.2,406.6 807.3,409.8 807.9,413.7C808.5,417.6 808.6,423.1 807.9,427.1C807.2,431 805.6,435.2 803.6,437.4C801.6,439.7 798.2,440.8 795.7,440.5C793.2,440.2 790.1,438.2 788.4,435.6C786.7,433 786.4,428.1 785.4,424.6C784.4,421.2 782.8,418.2 782.3,414.9C781.8,411.7 781.3,408 782.3,405.2Z" fill="#d0cfd2" filter="url(#b4)" opacity="0.6" />
<path d="M815.8,405.2C816.4,401 818.7,397.5 821.3,394.8C823.8,392.2 828.2,389.1 831,389.4C833.8,389.7 836,392.4 838.3,396.7C840.6,400.9 844.6,409.3 845,414.9C845.4,420.5 842.7,425.8 840.7,430.1C838.8,434.5 835.7,440 833.4,441.1C831.2,442.2 829.4,438.5 827.3,436.8C825.3,435.1 822.9,433.6 821.3,430.7C819.6,427.9 818.5,424 817.6,419.8C816.7,415.5 815.2,409.3 815.8,405.2Z" fill="#d0cfd2" filter="url(#b4)" opacity="0.6" />
<path d="M826.1,393C826.7,388.4 829.4,390 831,390C832.6,390 834.5,391.3 835.9,393C837.2,394.7 837.6,396.9 838.9,400.3C840.2,403.8 843.2,409.8 843.8,413.7C844.4,417.6 843.5,420.2 842.6,423.4C841.6,426.7 839.8,430.4 838.3,433.2C836.8,435.9 835,439.4 833.4,439.9C831.9,440.4 830.2,440 829.2,436.2C828.2,432.5 827.9,424.5 827.3,417.3C826.8,410.1 825.5,397.6 826.1,393Z" fill="#f0d8cc" filter="url(#b1)" />
<path d="M783.1,405.2C783.9,402.4 786.3,399.7 788.4,398.5C790.5,397.3 793.3,397.3 795.7,398.1C798.1,398.9 801.1,400.8 803,403.4C804.9,405.9 806.5,409.8 807.1,413.7C807.8,417.6 807.8,422.7 807.1,426.5C806.5,430.2 805.2,434 803.3,436.2C801.3,438.4 798.1,439.8 795.7,439.5C793.4,439.2 790.7,437 789.1,434.4C787.6,431.8 787.2,427.3 786.2,424C785.2,420.8 783.6,418.1 783.1,414.9C782.5,411.8 782.2,407.9 783.1,405.2Z" fill="#f1d9cf" filter="url(#b1)" opacity="0.9" />
<path d="M784.1,405.8C784.9,403.3 787.1,400.8 789,399.7C790.9,398.6 793.4,398.6 795.7,399.3C798,400.1 801,401.8 802.8,404.2C804.6,406.6 805.8,410.1 806.4,413.7C807,417.3 807,422.3 806.4,425.9C805.8,429.5 804.5,433.3 802.8,435.4C801,437.4 798.1,438.6 796,438.3C793.8,437.9 791.5,435.6 790.1,433.2C788.7,430.7 788.7,426.5 787.7,423.4C786.7,420.4 784.9,417.9 784.3,414.9C783.7,412 783.4,408.3 784.1,405.8Z" fill="url(#kid2)" filter="url(#b1)" />
<path d="M817,405.2C817.4,401.4 819.4,398.7 821.3,396.9C823.1,395.1 826.1,394.1 828.3,394.5C830.5,394.8 832.7,396.5 834.4,399.1C836.1,401.7 837.9,406.4 838.7,410C839.5,413.7 839.8,417.6 839.3,421C838.8,424.4 837.4,428.3 835.6,430.5C833.9,432.7 831,434.5 828.8,434.4C826.7,434.2 824.3,431.9 822.7,429.5C821.1,427.1 820,423.8 819.1,419.8C818.1,415.7 816.6,409 817,405.2Z" fill="url(#kid2)" filter="url(#b1)" />
<path d="M790.8,405.2C792.1,402.9 795.9,402.3 798.1,404C800.4,405.6 803.4,411.1 804.2,414.9C805,418.8 804.4,424.6 803,427.1C801.6,429.5 797.7,431.1 795.7,429.5C793.7,427.9 791.7,421.4 790.8,417.3C790,413.3 789.6,407.4 790.8,405.2Z" fill="#4a0b0f" filter="url(#b2)" opacity="0.6" />
<path d="M826.1,407.6C827.6,405.6 831.5,403.8 833.4,405.2C835.4,406.6 837.3,412.5 837.7,416.1C838.1,419.8 837.4,424.9 835.9,427.1C834.3,429.3 830.4,431.1 828.6,429.5C826.7,427.9 825.3,421 824.9,417.3C824.5,413.7 824.7,409.6 826.1,407.6Z" fill="#4a0b0f" filter="url(#b2)" opacity="0.5" />
<ellipse cx="830.4" cy="409.4" rx="1.2" ry="1.5" fill="#fffaf6" filter="url(#b1)" opacity="0.8"/>
<ellipse cx="831" cy="414.7" rx="1" ry="1.2" fill="#fffaf6" filter="url(#b1)" opacity="0.8"/>
<ellipse cx="795.7" cy="430.1" rx="0.7" ry="1.2" fill="#fffaf6" filter="url(#b1)" opacity="0.8"/>
<ellipse cx="820.7" cy="410" rx="0.7" ry="1.2" fill="#fffaf6" filter="url(#b1)" opacity="0.8"/>
<rect x="737.6" y="451.8" width="148.9" height="1.6" fill="#0b0f2a"/>
<g transform="translate(737.6 453)"><rect x="0" y="0" width="148.9" height="9.5" fill="url(#rulA2)" filter="url(#b1)"/></g>
</g>
<rect x="738.9" y="328.1" width="146.3" height="133.1" fill="none" stroke="#fff" stroke-width="1.2" opacity="0.85"/>
<rect x="737.6" y="326.8" width="148.9" height="135.7" fill="none" stroke="#000" stroke-width="1.35" rx="1"/>
<clipPath id="cp5"><rect x="582.8" y="474.8" width="148.7" height="134.5"/></clipPath>
<g clip-path="url(#cp5)">
<rect x="582.8" y="474.8" width="148.7" height="134.5" fill="#ffffff"/>
<path d="M628.5,510.4C630.6,508.2 634.6,505.5 638.3,504.5C641.9,503.5 647.2,503.2 650.4,504.3C653.7,505.4 654.9,510.7 657.7,511.3C660.6,512 663.6,508.8 667.5,508.2C671.3,507.6 677.4,506.1 680.9,507.7C684.3,509.3 686.4,513.6 688.2,517.7C689.9,521.8 690.6,527 691.2,532.3C691.8,537.5 692.5,544 691.8,549.3C691.1,554.6 689.2,559.5 686.9,563.9C684.7,568.4 681.5,572.8 678.4,576.1C675.4,579.3 671.3,582 668.7,583.4C666.1,584.8 665.2,585.4 662.6,584.6C660,583.8 656.5,581.6 652.9,578.5C649.2,575.5 644.5,570.4 640.7,566.3C637,562.3 632.6,558.2 630.4,554.2C628.2,550.1 628.4,546.5 627.6,542C626.8,537.5 625.7,531.5 625.5,527.4C625.3,523.4 625.6,520.5 626.1,517.7C626.6,514.8 626.5,512.6 628.5,510.4Z" fill="#d9cfcc" filter="url(#b2)" opacity="0.7" />
<path d="M628.5,509.4C630.6,507.2 634.6,504.5 638.3,503.5C641.9,502.5 647.2,502.2 650.4,503.3C653.7,504.4 654.9,509.7 657.7,510.3C660.6,511 663.6,507.8 667.5,507.2C671.3,506.6 677.4,505.1 680.9,506.7C684.3,508.3 686.4,512.6 688.2,516.7C689.9,520.8 690.6,526 691.2,531.3C691.8,536.5 692.5,543 691.8,548.3C691.1,553.6 689.2,558.5 686.9,562.9C684.7,567.4 681.5,571.8 678.4,575.1C675.4,578.3 671.3,581 668.7,582.4C666.1,583.8 665.2,584.4 662.6,583.6C660,582.8 656.5,580.6 652.9,577.5C649.2,574.5 644.5,569.4 640.7,565.3C637,561.3 632.6,557.2 630.4,553.2C628.2,549.1 628.4,545.5 627.6,541C626.8,536.5 625.7,530.5 625.5,526.4C625.3,522.4 625.6,519.5 626.1,516.7C626.6,513.8 626.5,511.6 628.5,509.4Z" fill="url(#liv)" filter="url(#b1)" />
<path d="M639.5,504.5C640.7,502.7 647.4,502.5 650.4,503.5C653.5,504.5 654.9,509.9 657.7,510.6C660.6,511.3 664,508.1 667.5,507.5C670.9,507 677.2,505.7 678.4,507.2C679.6,508.7 677,514.3 674.8,516.7C672.6,519.1 668.7,521.1 665,521.5C661.4,521.9 656.5,520.3 652.9,519.1C649.2,517.9 645.4,516.7 643.1,514.2C640.9,511.8 638.3,506.3 639.5,504.5Z" fill="#d9907c" filter="url(#b2)" opacity="0.8" />
<path d="M654.7,516.7C655.5,516.2 658.6,516.4 660.2,517.3C661.8,518.2 664.1,520.6 664.4,522.1C664.7,523.7 663,526.1 662,526.4C661,526.8 659.5,525.2 658.4,524.2C657.2,523.2 655.9,521.6 655.3,520.3C654.7,519.1 653.9,517.2 654.7,516.7Z" fill="#dcc4c4" filter="url(#b1)" opacity="0.8" />
<path d="M650.4,519.7C650.6,519.1 652.7,519.2 654.1,520.3C655.5,521.4 657.9,525 659,526.4C660,527.8 660.6,528.6 660.2,528.8C659.8,529.1 657.7,528.7 656.5,527.9C655.3,527.1 653.9,525.3 652.9,524C651.9,522.6 650.2,520.3 650.4,519.7Z" fill="#3a1714" filter="url(#b1)" opacity="0.9" />
<path d="M660.2,536.1C664.2,532.1 677.4,533.3 682.1,536.1C686.7,539 688.6,547.3 688.2,553.2C687.8,559.1 683.9,567.4 679.6,571.4C675.4,575.5 666.3,579.3 662.6,577.5C659,575.7 658.2,567.4 657.7,560.5C657.3,553.6 656.1,540.2 660.2,536.1Z" fill="#b0705a" filter="url(#b2)" opacity="0.45" />
<ellipse cx="634" cy="519.1" rx="0.9" ry="1.8" fill="#ffffff" filter="url(#b1)" opacity="0.8"/>
<ellipse cx="632.8" cy="525.2" rx="0.9" ry="2" fill="#ffffff" filter="url(#b1)" opacity="0.8"/>
<ellipse cx="637.7" cy="529.5" rx="1.2" ry="1.8" fill="#ffffff" filter="url(#b1)" opacity="0.8"/>
<ellipse cx="637.1" cy="534.9" rx="1.2" ry="2" fill="#ffffff" filter="url(#b1)" opacity="0.8"/>
<ellipse cx="643.1" cy="547.7" rx="3.2" ry="1" fill="#ffffff" transform="rotate(30 643.1 547.7)" filter="url(#b1)" opacity="0.8"/>
<ellipse cx="668.7" cy="545.3" rx="1.2" ry="1.2" fill="#ffffff" filter="url(#b1)" opacity="0.8"/>
<ellipse cx="677" cy="547.7" rx="1.3" ry="1.5" fill="#ffffff" filter="url(#b1)" opacity="0.8"/>
<ellipse cx="641.3" cy="520.3" rx="1.5" ry="0.9" fill="#ffffff" transform="rotate(40 641.3 520.3)" filter="url(#b1)" opacity="0.8"/>
<ellipse cx="654.1" cy="552" rx="1.2" ry="1.2" fill="#ffffff" filter="url(#b1)" opacity="0.8"/>
<path d="M662.6,541 L660.2,548.3" stroke="#c43030" stroke-width="0.7" fill="none" filter="url(#b1)"/>
<rect x="582.8" y="597.4" width="148.7" height="1.6" fill="#1a2250"/>
<g transform="translate(582.8 598.6)"><rect x="0" y="0" width="148.7" height="10.7" fill="url(#rulB)" filter="url(#b1)"/></g>
</g>
<rect x="584.1" y="476.1" width="146.1" height="131.9" fill="none" stroke="#fff" stroke-width="1.2" opacity="0.85"/>
<rect x="582.8" y="474.8" width="148.7" height="134.5" fill="none" stroke="#000" stroke-width="1.35" rx="1"/>
<clipPath id="cp6"><rect x="737.6" y="474.8" width="148.9" height="134.5"/></clipPath>
<g clip-path="url(#cp6)">
<rect x="737.6" y="474.8" width="148.9" height="134.5" fill="#fdfdfd"/>
<path d="M793.3,524.4C796.3,524.2 799.8,526.3 803,527.4C806.3,528.5 809.1,530.3 812.7,531.1C816.4,531.8 821.5,530.9 824.9,531.7C828.4,532.5 831.1,533.8 833.4,535.9C835.8,538.1 837.9,541 838.9,544.4C839.9,547.9 840,552.6 839.5,556.6C839,560.7 837.9,564.9 835.9,568.8C833.8,572.6 830.4,577 827.3,579.7C824.3,582.5 820.7,584.4 817.6,585.2C814.6,586 812.3,586.1 809.1,584.6C805.8,583.1 801.2,579.3 798.1,576.1C795.1,572.8 793.1,568 790.8,565.1C788.6,562.3 786.2,561.9 784.8,559C783.3,556.2 782.9,551.5 782.3,548.1C781.7,544.6 780.7,541.6 781.1,538.4C781.5,535.1 782.7,531 784.8,528.6C786.8,526.3 790.2,524.6 793.3,524.4Z" fill="#d6cdca" filter="url(#b4)" opacity="0.6" />
<path d="M793.3,523.4C796.3,523.2 799.8,525.3 803,526.4C806.3,527.5 809.1,529.3 812.7,530.1C816.4,530.8 821.5,529.9 824.9,530.7C828.4,531.5 831.1,532.8 833.4,534.9C835.8,537.1 837.9,540 838.9,543.4C839.9,546.9 840,551.6 839.5,555.6C839,559.7 837.9,563.9 835.9,567.8C833.8,571.6 830.4,576 827.3,578.7C824.3,581.5 820.7,583.4 817.6,584.2C814.6,585 812.3,585.1 809.1,583.6C805.8,582.1 801.2,578.3 798.1,575.1C795.1,571.8 793.1,567 790.8,564.1C788.6,561.3 786.2,560.9 784.8,558C783.3,555.2 782.9,550.5 782.3,547.1C781.7,543.6 780.7,540.6 781.1,537.4C781.5,534.1 782.7,530 784.8,527.6C786.8,525.3 790.2,523.6 793.3,523.4Z" fill="url(#liv2)" filter="url(#b1)" />
<path d="M794.5,525.2C795.3,524.1 800,526.1 803,527C806.1,527.9 810.7,528.7 812.7,530.7C814.8,532.6 816,537.3 815.2,538.6C814.4,539.9 810.7,539.4 807.9,538.6C805,537.8 800.4,535.9 798.1,533.7C795.9,531.5 793.7,526.3 794.5,525.2Z" fill="#cf7f6a" filter="url(#b2)" opacity="0.8" />
<path d="M805.4,536.1C805.6,535.6 808.8,537.2 810.3,538C811.8,538.8 814,540.2 814.6,541C815.2,541.8 814.9,542.8 814,542.8C813,542.8 810.5,542.1 809.1,541C807.7,539.9 805.2,536.7 805.4,536.1Z" fill="#5a1418" filter="url(#b1)" opacity="0.9" />
<path d="M801.8,560.5C802.3,559.1 806.3,558.5 807.9,559.3C809.5,560.1 811.3,562.7 811.5,565.3C811.7,568 810.3,573.5 809.1,575.1C807.9,576.7 804.9,576.3 804.2,575.1C803.5,573.9 805.2,570.2 804.8,567.8C804.4,565.3 801.3,561.9 801.8,560.5Z" fill="#e3bba4" filter="url(#b1)" opacity="0.85" />
<path d="M821.3,566.6C821.7,565.1 824.6,564.5 825.5,565.3C826.4,566.2 827.1,570 826.7,571.4C826.3,572.9 824,574.7 823.1,573.9C822.2,573.1 820.9,568 821.3,566.6Z" fill="#dcae96" filter="url(#b1)" opacity="0.8" />
<path d="M787.2,559.3C787.6,557.6 791.9,553.8 793.3,553.2C794.7,552.6 796.1,554 795.7,555.6C795.3,557.2 792.3,562.3 790.8,562.9C789.4,563.5 786.8,560.9 787.2,559.3Z" fill="#dcae96" filter="url(#b1)" opacity="0.7" />
<ellipse cx="789.6" cy="534.9" rx="0.9" ry="1.2" fill="#ffffff" filter="url(#b1)" opacity="0.8"/>
<ellipse cx="789" cy="541" rx="0.9" ry="1.2" fill="#ffffff" filter="url(#b1)" opacity="0.8"/>
<ellipse cx="796.3" cy="543.4" rx="0.9" ry="1.2" fill="#ffffff" filter="url(#b1)" opacity="0.8"/>
<ellipse cx="796.3" cy="548.3" rx="0.9" ry="1.2" fill="#ffffff" filter="url(#b1)" opacity="0.8"/>
<ellipse cx="809.1" cy="547.7" rx="1.2" ry="0.9" fill="#ffffff" filter="url(#b1)" opacity="0.8"/>
<ellipse cx="820.7" cy="555" rx="1.2" ry="0.9" fill="#ffffff" filter="url(#b1)" opacity="0.8"/>
<ellipse cx="827.3" cy="558.7" rx="1.2" ry="0.9" fill="#ffffff" filter="url(#b1)" opacity="0.8"/>
<rect x="737.6" y="597" width="148.9" height="1.6" fill="#1a2250"/>
<g transform="translate(737.6 598.2)"><rect x="0" y="0" width="148.9" height="11.1" fill="url(#rulB)" filter="url(#b1)"/></g>
</g>
<rect x="738.9" y="476.1" width="146.3" height="131.9" fill="none" stroke="#fff" stroke-width="1.2" opacity="0.85"/>
<rect x="737.6" y="474.8" width="148.9" height="134.5" fill="none" stroke="#000" stroke-width="1.35" rx="1"/>
<text x="496" y="843.5" font-size="25" font-weight="bold">e</text>
<text x="499.8" y="1121" font-size="22" font-weight="bold" transform="rotate(-90 499.8 1121)" textLength="202" lengthAdjust="spacingAndGlyphs">Organ   weight  (g)</text>
<line x1="575.7" y1="908.35" x2="575.7" y2="1161.15" stroke="#000" stroke-width="1.5" stroke-linecap="butt"/>
<line x1="568.7" y1="909.1" x2="575.7" y2="909.1" stroke="#000" stroke-width="1.5" stroke-linecap="butt"/>
<text x="557.5" y="914.9" font-size="16.4" text-anchor="end" textLength="9.7" lengthAdjust="spacingAndGlyphs" stroke="#000" stroke-width="0.55">3</text>
<line x1="568.7" y1="993.2" x2="575.7" y2="993.2" stroke="#000" stroke-width="1.5" stroke-linecap="butt"/>
<text x="557.5" y="999" font-size="16.4" text-anchor="end" textLength="9.7" lengthAdjust="spacingAndGlyphs" stroke="#000" stroke-width="0.55">2</text>
<line x1="568.7" y1="1076.6" x2="575.7" y2="1076.6" stroke="#000" stroke-width="1.5" stroke-linecap="butt"/>
<text x="557.5" y="1082.4" font-size="16.4" text-anchor="end" textLength="9.7" lengthAdjust="spacingAndGlyphs" stroke="#000" stroke-width="0.55">1</text>
<line x1="568.7" y1="1160.4" x2="575.7" y2="1160.4" stroke="#000" stroke-width="1.5" stroke-linecap="butt"/>
<text x="557.5" y="1166.2" font-size="16.4" text-anchor="end" textLength="9.7" lengthAdjust="spacingAndGlyphs" stroke="#000" stroke-width="0.55">0</text>
<line x1="568.7" y1="1160.4" x2="949.45" y2="1160.4" stroke="#000" stroke-width="1.5" stroke-linecap="butt"/>
<line x1="699.4" y1="1153.4" x2="699.4" y2="1160.4" stroke="#000" stroke-width="1.5" stroke-linecap="butt"/>
<line x1="823.4" y1="1153.4" x2="823.4" y2="1160.4" stroke="#000" stroke-width="1.5" stroke-linecap="butt"/>
<line x1="948.7" y1="1153.4" x2="948.7" y2="1160.4" stroke="#000" stroke-width="1.5" stroke-linecap="butt"/>
<line x1="619.6" y1="931.3" x2="619.6" y2="953.6" stroke="#000" stroke-width="1.5" stroke-linecap="butt"/>
<line x1="615.1" y1="931.3" x2="624.1" y2="931.3" stroke="#000" stroke-width="1.5" stroke-linecap="butt"/>
<rect x="602.3" y="953.6" width="34.6" height="206.8" fill="#0000ff" stroke="#000" stroke-width="1.5" rx="0"/>
<line x1="654.85" y1="1049.7" x2="654.85" y2="1080.6" stroke="#000" stroke-width="1.5" stroke-linecap="butt"/>
<line x1="650.35" y1="1049.7" x2="659.35" y2="1049.7" stroke="#000" stroke-width="1.5" stroke-linecap="butt"/>
<rect x="636.9" y="1080.6" width="35.9" height="79.8" fill="#ff0000" stroke="#000" stroke-width="1.5" rx="0"/>
<line x1="743.45" y1="1028" x2="743.45" y2="1039" stroke="#000" stroke-width="1.5" stroke-linecap="butt"/>
<line x1="738.95" y1="1028" x2="747.95" y2="1028" stroke="#000" stroke-width="1.5" stroke-linecap="butt"/>
<rect x="725.3" y="1039" width="36.3" height="121.4" fill="#0000ff" stroke="#000" stroke-width="1.5" rx="0"/>
<line x1="779.55" y1="1084.6" x2="779.55" y2="1098.6" stroke="#000" stroke-width="1.5" stroke-linecap="butt"/>
<line x1="775.05" y1="1084.6" x2="784.05" y2="1084.6" stroke="#000" stroke-width="1.5" stroke-linecap="butt"/>
<rect x="761.6" y="1098.6" width="35.9" height="61.8" fill="#ff0000" stroke="#000" stroke-width="1.5" rx="0"/>
<line x1="868.1" y1="1012.5" x2="868.1" y2="1040" stroke="#000" stroke-width="1.5" stroke-linecap="butt"/>
<line x1="863.6" y1="1012.5" x2="872.6" y2="1012.5" stroke="#000" stroke-width="1.5" stroke-linecap="butt"/>
<rect x="850" y="1040" width="36.2" height="120.4" fill="#0000ff" stroke="#000" stroke-width="1.5" rx="0"/>
<line x1="903.5" y1="1029.4" x2="903.5" y2="1057" stroke="#000" stroke-width="1.5" stroke-linecap="butt"/>
<line x1="899" y1="1029.4" x2="908" y2="1029.4" stroke="#000" stroke-width="1.5" stroke-linecap="butt"/>
<rect x="886.2" y="1057" width="34.6" height="103.4" fill="#ff0000" stroke="#000" stroke-width="1.5" rx="0"/>
<rect x="807.6" y="905.4" width="18.3" height="18.2" fill="#0000ff" stroke="none" stroke-width="1.5" rx="2.5"/>
<rect x="807.6" y="927.8" width="18.3" height="18.2" fill="#ff0000" stroke="none" stroke-width="1.5" rx="2.5"/>
<text x="832.4" y="919.7" font-size="19.5" font-weight="bold" font-style="italic" textLength="81.5" lengthAdjust="spacingAndGlyphs">Wdr76<tspan dy="-4.68" font-size="13.26">+/+</tspan></text>
<text x="832.4" y="942" font-size="19.5" font-weight="bold" font-style="italic" textLength="73.5" lengthAdjust="spacingAndGlyphs">Wdr76<tspan dy="-4.68" font-size="13.26">-/-</tspan></text>
<text x="659.5" y="1031.96" font-size="16" text-anchor="middle" font-family="DejaVu Sans, Liberation Sans, sans-serif">***</text>
<text x="778.5" y="1065.16" font-size="16" text-anchor="middle" font-family="DejaVu Sans, Liberation Sans, sans-serif">**</text>
<text x="903.8" y="1010.5" font-size="20" font-weight="bold" text-anchor="middle">n.s.</text>
<text x="633.6" y="1187.3" font-size="19.5" font-weight="bold" text-anchor="middle" textLength="104" lengthAdjust="spacingAndGlyphs">Epididymal</text>
<text x="761.6" y="1187.3" font-size="19.5" font-weight="bold" text-anchor="middle" textLength="89" lengthAdjust="spacingAndGlyphs">Perirenal</text>
<text x="887.2" y="1187.3" font-size="19.5" font-weight="bold" text-anchor="middle" textLength="50" lengthAdjust="spacingAndGlyphs">Liver</text>
<text x="1064.5" y="22" font-size="25" font-weight="bold">f</text>
<text x="1117.5" y="334" font-size="22" font-weight="bold" transform="rotate(-90 1117.5 334)" textLength="274" lengthAdjust="spacingAndGlyphs">Total Cholesterol  (mg/dl)</text>
<line x1="1209.7" y1="79.45" x2="1209.7" y2="333.05" stroke="#000" stroke-width="1.5" stroke-linecap="butt"/>
<line x1="1202.7" y1="80.2" x2="1209.7" y2="80.2" stroke="#000" stroke-width="1.5" stroke-linecap="butt"/>
<text x="1191" y="86" font-size="16.4" text-anchor="end" textLength="29.1" lengthAdjust="spacingAndGlyphs" stroke="#000" stroke-width="0.55">200</text>
<line x1="1202.7" y1="143.8" x2="1209.7" y2="143.8" stroke="#000" stroke-width="1.5" stroke-linecap="butt"/>
<text x="1191" y="149.6" font-size="16.4" text-anchor="end" textLength="29.1" lengthAdjust="spacingAndGlyphs" stroke="#000" stroke-width="0.55">150</text>
<line x1="1202.7" y1="206.7" x2="1209.7" y2="206.7" stroke="#000" stroke-width="1.5" stroke-linecap="butt"/>
<text x="1191" y="212.5" font-size="16.4" text-anchor="end" textLength="29.1" lengthAdjust="spacingAndGlyphs" stroke="#000" stroke-width="0.55">100</text>
<line x1="1202.7" y1="269.7" x2="1209.7" y2="269.7" stroke="#000" stroke-width="1.5" stroke-linecap="butt"/>
<text x="1191" y="275.5" font-size="16.4" text-anchor="end" textLength="19.4" lengthAdjust="spacingAndGlyphs" stroke="#000" stroke-width="0.55">50</text>
<line x1="1202.7" y1="332.3" x2="1209.7" y2="332.3" stroke="#000" stroke-width="1.5" stroke-linecap="butt"/>
<text x="1191" y="338.1" font-size="16.4" text-anchor="end" textLength="9.7" lengthAdjust="spacingAndGlyphs" stroke="#000" stroke-width="0.55">0</text>
<line x1="1202.7" y1="332.3" x2="1361.65" y2="332.3" stroke="#000" stroke-width="1.5" stroke-linecap="butt"/>
<line x1="1284.3" y1="325.3" x2="1284.3" y2="332.3" stroke="#000" stroke-width="1.5" stroke-linecap="butt"/>
<line x1="1360.9" y1="325.3" x2="1360.9" y2="332.3" stroke="#000" stroke-width="1.5" stroke-linecap="butt"/>
<line x1="1247.1" y1="93.5" x2="1247.1" y2="100.3" stroke="#000" stroke-width="1.5" stroke-linecap="butt"/>
<line x1="1242.6" y1="93.5" x2="1251.6" y2="93.5" stroke="#000" stroke-width="1.5" stroke-linecap="butt"/>
<rect x="1232" y="100.3" width="30.2" height="232" fill="#0000ff" stroke="#000" stroke-width="1.5" rx="0"/>
<line x1="1322.3" y1="249.6" x2="1322.3" y2="260.6" stroke="#000" stroke-width="1.5" stroke-linecap="butt"/>
<line x1="1317.8" y1="249.6" x2="1326.8" y2="249.6" stroke="#000" stroke-width="1.5" stroke-linecap="butt"/>
<rect x="1308" y="260.6" width="28.6" height="71.7" fill="#ff0000" stroke="#000" stroke-width="1.5" rx="0"/>
<text x="1322.6" y="241.16" font-size="16" text-anchor="middle" font-family="DejaVu Sans, Liberation Sans, sans-serif">***</text>
<text x="1198.3" y="361.8" font-size="20" font-weight="bold" font-style="italic" textLength="81.5" lengthAdjust="spacingAndGlyphs">Wdr76<tspan dy="-4.8" font-size="13.6">+/+</tspan></text>
<text x="1298.9" y="361.8" font-size="20" font-weight="bold" font-style="italic" textLength="73.5" lengthAdjust="spacingAndGlyphs">Wdr76<tspan dy="-4.8" font-size="13.6">-/-</tspan></text>
<text x="1351" y="19.3" font-size="25" font-weight="bold">g</text>
<text x="1404.8" y="298.5" font-size="22" font-weight="bold" transform="rotate(-90 1404.8 298.5)" textLength="212.5" lengthAdjust="spacingAndGlyphs">Triglyceride  (mg/dl)</text>
<line x1="1472.4" y1="81.35" x2="1472.4" y2="333.95" stroke="#000" stroke-width="1.5" stroke-linecap="butt"/>
<line x1="1465.4" y1="82.1" x2="1472.4" y2="82.1" stroke="#000" stroke-width="1.5" stroke-linecap="butt"/>
<text x="1454.5" y="87.9" font-size="16.4" text-anchor="end" textLength="19.4" lengthAdjust="spacingAndGlyphs" stroke="#000" stroke-width="0.55">80</text>
<line x1="1465.4" y1="145.7" x2="1472.4" y2="145.7" stroke="#000" stroke-width="1.5" stroke-linecap="butt"/>
<text x="1454.5" y="151.5" font-size="16.4" text-anchor="end" textLength="19.4" lengthAdjust="spacingAndGlyphs" stroke="#000" stroke-width="0.55">60</text>
<line x1="1465.4" y1="208" x2="1472.4" y2="208" stroke="#000" stroke-width="1.5" stroke-linecap="butt"/>
<text x="1454.5" y="213.8" font-size="16.4" text-anchor="end" textLength="19.4" lengthAdjust="spacingAndGlyphs" stroke="#000" stroke-width="0.55">40</text>
<line x1="1465.4" y1="271.6" x2="1472.4" y2="271.6" stroke="#000" stroke-width="1.5" stroke-linecap="butt"/>
<text x="1454.5" y="277.4" font-size="16.4" text-anchor="end" textLength="19.4" lengthAdjust="spacingAndGlyphs" stroke="#000" stroke-width="0.55">20</text>
<line x1="1465.4" y1="333.2" x2="1472.4" y2="333.2" stroke="#000" stroke-width="1.5" stroke-linecap="butt"/>
<text x="1454.5" y="339" font-size="16.4" text-anchor="end" textLength="9.7" lengthAdjust="spacingAndGlyphs" stroke="#000" stroke-width="0.55">0</text>
<line x1="1465.4" y1="333.2" x2="1626.25" y2="333.2" stroke="#000" stroke-width="1.5" stroke-linecap="butt"/>
<line x1="1548.6" y1="326.2" x2="1548.6" y2="333.2" stroke="#000" stroke-width="1.5" stroke-linecap="butt"/>
<line x1="1625.5" y1="326.2" x2="1625.5" y2="333.2" stroke="#000" stroke-width="1.5" stroke-linecap="butt"/>
<line x1="1511.3" y1="142.8" x2="1511.3" y2="165.1" stroke="#000" stroke-width="1.5" stroke-linecap="butt"/>
<line x1="1506.8" y1="142.8" x2="1515.8" y2="142.8" stroke="#000" stroke-width="1.5" stroke-linecap="butt"/>
<rect x="1496" y="165.1" width="30.6" height="168.1" fill="#0000ff" stroke="#000" stroke-width="1.5" rx="0"/>
<line x1="1587.1" y1="304.3" x2="1587.1" y2="317.3" stroke="#000" stroke-width="1.5" stroke-linecap="butt"/>
<line x1="1582.6" y1="304.3" x2="1591.6" y2="304.3" stroke="#000" stroke-width="1.5" stroke-linecap="butt"/>
<rect x="1572" y="317.3" width="30.2" height="15.9" fill="#ff0000" stroke="#000" stroke-width="1.5" rx="0"/>
<text x="1587.2" y="293.66" font-size="16" text-anchor="middle" font-family="DejaVu Sans, Liberation Sans, sans-serif">***</text>
<text x="1465" y="361.8" font-size="20" font-weight="bold" font-style="italic" textLength="81.5" lengthAdjust="spacingAndGlyphs">Wdr76<tspan dy="-4.8" font-size="13.6">+/+</tspan></text>
<text x="1564.8" y="361.8" font-size="20" font-weight="bold" font-style="italic" textLength="73.5" lengthAdjust="spacingAndGlyphs">Wdr76<tspan dy="-4.8" font-size="13.6">-/-</tspan></text>
<text x="1624" y="19" font-size="25" font-weight="bold">h</text>
<text x="1662.6" y="290.4" font-size="22" font-weight="bold" transform="rotate(-90 1662.6 290.4)" textLength="176.8" lengthAdjust="spacingAndGlyphs">Serum FFA (μM)</text>
<line x1="1729.3" y1="81.35" x2="1729.3" y2="334.95" stroke="#000" stroke-width="1.5" stroke-linecap="butt"/>
<line x1="1722.3" y1="82.1" x2="1729.3" y2="82.1" stroke="#000" stroke-width="1.5" stroke-linecap="butt"/>
<text x="1710.5" y="87.9" font-size="16.4" text-anchor="end" textLength="29.1" lengthAdjust="spacingAndGlyphs" stroke="#000" stroke-width="0.55">300</text>
<line x1="1722.3" y1="166.4" x2="1729.3" y2="166.4" stroke="#000" stroke-width="1.5" stroke-linecap="butt"/>
<text x="1710.5" y="172.2" font-size="16.4" text-anchor="end" textLength="29.1" lengthAdjust="spacingAndGlyphs" stroke="#000" stroke-width="0.55">200</text>
<line x1="1722.3" y1="250.5" x2="1729.3" y2="250.5" stroke="#000" stroke-width="1.5" stroke-linecap="butt"/>
<text x="1710.5" y="256.3" font-size="16.4" text-anchor="end" textLength="29.1" lengthAdjust="spacingAndGlyphs" stroke="#000" stroke-width="0.55">100</text>
<line x1="1722.3" y1="334.2" x2="1729.3" y2="334.2" stroke="#000" stroke-width="1.5" stroke-linecap="butt"/>
<text x="1710.5" y="340" font-size="16.4" text-anchor="end" textLength="9.7" lengthAdjust="spacingAndGlyphs" stroke="#000" stroke-width="0.55">0</text>
<line x1="1722.3" y1="334.2" x2="1879.95" y2="334.2" stroke="#000" stroke-width="1.5" stroke-linecap="butt"/>
<line x1="1804.6" y1="327.2" x2="1804.6" y2="334.2" stroke="#000" stroke-width="1.5" stroke-linecap="butt"/>
<line x1="1879.2" y1="327.2" x2="1879.2" y2="334.2" stroke="#000" stroke-width="1.5" stroke-linecap="butt"/>
<line x1="1767.1" y1="126.5" x2="1767.1" y2="136" stroke="#000" stroke-width="1.5" stroke-linecap="butt"/>
<line x1="1762.6" y1="126.5" x2="1771.6" y2="126.5" stroke="#000" stroke-width="1.5" stroke-linecap="butt"/>
<rect x="1752" y="136" width="30.2" height="198.2" fill="#0000ff" stroke="#000" stroke-width="1.5" rx="0"/>
<line x1="1841.6" y1="235.9" x2="1841.6" y2="244" stroke="#000" stroke-width="1.5" stroke-linecap="butt"/>
<line x1="1837.1" y1="235.9" x2="1846.1" y2="235.9" stroke="#000" stroke-width="1.5" stroke-linecap="butt"/>
<rect x="1826.7" y="244" width="29.8" height="90.2" fill="#ff0000" stroke="#000" stroke-width="1.5" rx="0"/>
<text x="1840.6" y="227.16" font-size="16" text-anchor="middle" font-family="DejaVu Sans, Liberation Sans, sans-serif">***</text>
<text x="1723.8" y="361.8" font-size="20" font-weight="bold" font-style="italic" textLength="81.5" lengthAdjust="spacingAndGlyphs">Wdr76<tspan dy="-4.8" font-size="13.6">+/+</tspan></text>
<text x="1824" y="361.8" font-size="20" font-weight="bold" font-style="italic" textLength="73.5" lengthAdjust="spacingAndGlyphs">Wdr76<tspan dy="-4.8" font-size="13.6">-/-</tspan></text>
<text x="1065" y="434" font-size="25" font-weight="bold">i</text>
<text x="1103.8" y="457" font-size="21" font-weight="bold" textLength="46" lengthAdjust="spacingAndGlyphs">GTT</text>
<text x="1118.7" y="698" font-size="22" font-weight="bold" transform="rotate(-90 1118.7 698)" textLength="179" lengthAdjust="spacingAndGlyphs">Glucose (mg/dl)</text>
<line x1="1210.7" y1="478.25" x2="1210.7" y2="729.75" stroke="#000" stroke-width="1.5" stroke-linecap="butt"/>
<line x1="1203.7" y1="479" x2="1210.7" y2="479" stroke="#000" stroke-width="1.5" stroke-linecap="butt"/>
<text x="1195" y="484.8" font-size="16.4" text-anchor="end" textLength="29.1" lengthAdjust="spacingAndGlyphs" stroke="#000" stroke-width="0.55">600</text>
<line x1="1203.7" y1="528.7" x2="1210.7" y2="528.7" stroke="#000" stroke-width="1.5" stroke-linecap="butt"/>
<text x="1195" y="534.5" font-size="16.4" text-anchor="end" textLength="29.1" lengthAdjust="spacingAndGlyphs" stroke="#000" stroke-width="0.55">500</text>
<line x1="1203.7" y1="579.5" x2="1210.7" y2="579.5" stroke="#000" stroke-width="1.5" stroke-linecap="butt"/>
<text x="1195" y="585.3" font-size="16.4" text-anchor="end" textLength="29.1" lengthAdjust="spacingAndGlyphs" stroke="#000" stroke-width="0.55">400</text>
<line x1="1203.7" y1="629.5" x2="1210.7" y2="629.5" stroke="#000" stroke-width="1.5" stroke-linecap="butt"/>
<text x="1195" y="635.3" font-size="16.4" text-anchor="end" textLength="29.1" lengthAdjust="spacingAndGlyphs" stroke="#000" stroke-width="0.55">300</text>
<line x1="1203.7" y1="679.3" x2="1210.7" y2="679.3" stroke="#000" stroke-width="1.5" stroke-linecap="butt"/>
<text x="1195" y="685.1" font-size="16.4" text-anchor="end" textLength="29.1" lengthAdjust="spacingAndGlyphs" stroke="#000" stroke-width="0.55">200</text>
<line x1="1203.7" y1="729" x2="1210.7" y2="729" stroke="#000" stroke-width="1.5" stroke-linecap="butt"/>
<text x="1195" y="734.8" font-size="16.4" text-anchor="end" textLength="29.1" lengthAdjust="spacingAndGlyphs" stroke="#000" stroke-width="0.55">100</text>
<line x1="1210.1" y1="729" x2="1563.1" y2="729" stroke="#000" stroke-width="1.5" stroke-linecap="butt"/>
<line x1="1328.6" y1="722" x2="1328.6" y2="729" stroke="#000" stroke-width="1.5" stroke-linecap="butt"/>
<line x1="1445" y1="722" x2="1445" y2="729" stroke="#000" stroke-width="1.5" stroke-linecap="butt"/>
<line x1="1562.5" y1="722" x2="1562.5" y2="729" stroke="#000" stroke-width="1.5" stroke-linecap="butt"/>
<text x="1212.4" y="760.3" font-size="16.4" text-anchor="middle" textLength="9.7" lengthAdjust="spacingAndGlyphs" stroke="#000" stroke-width="0.55">0</text>
<text x="1329" y="760.3" font-size="16.4" text-anchor="middle" textLength="19.4" lengthAdjust="spacingAndGlyphs" stroke="#000" stroke-width="0.55">60</text>
<text x="1446" y="760.3" font-size="16.4" text-anchor="middle" textLength="29.1" lengthAdjust="spacingAndGlyphs" stroke="#000" stroke-width="0.55">120</text>
<text x="1563" y="760.3" font-size="16.4" text-anchor="middle" textLength="29.1" lengthAdjust="spacingAndGlyphs" stroke="#000" stroke-width="0.55">180</text>
<text x="1383" y="795" font-size="20.5" font-weight="bold" text-anchor="middle" textLength="99" lengthAdjust="spacingAndGlyphs">Time (min)</text>
<line x1="1270.7" y1="510.7" x2="1270.7" y2="519.9" stroke="#000" stroke-width="1.5" stroke-linecap="butt"/>
<line x1="1266.7" y1="510.7" x2="1274.7" y2="510.7" stroke="#000" stroke-width="1.5" stroke-linecap="butt"/>
<line x1="1270.7" y1="536.9" x2="1270.7" y2="545.8" stroke="#000" stroke-width="1.5" stroke-linecap="butt"/>
<line x1="1266.7" y1="545.8" x2="1274.7" y2="545.8" stroke="#000" stroke-width="1.5" stroke-linecap="butt"/>
<line x1="1328.6" y1="565.8" x2="1328.6" y2="585.6" stroke="#000" stroke-width="1.5" stroke-linecap="butt"/>
<line x1="1324.6" y1="565.8" x2="1332.6" y2="565.8" stroke="#000" stroke-width="1.5" stroke-linecap="butt"/>
<line x1="1328.6" y1="603" x2="1328.6" y2="610" stroke="#000" stroke-width="1.5" stroke-linecap="butt"/>
<line x1="1324.6" y1="610" x2="1332.6" y2="610" stroke="#000" stroke-width="1.5" stroke-linecap="butt"/>
<line x1="1445" y1="590.7" x2="1445" y2="623" stroke="#000" stroke-width="1.5" stroke-linecap="butt"/>
<line x1="1441" y1="590.7" x2="1449" y2="590.7" stroke="#000" stroke-width="1.5" stroke-linecap="butt"/>
<line x1="1445" y1="676.5" x2="1445" y2="691.9" stroke="#000" stroke-width="1.5" stroke-linecap="butt"/>
<line x1="1441" y1="676.5" x2="1449" y2="676.5" stroke="#000" stroke-width="1.5" stroke-linecap="butt"/>
<line x1="1441" y1="691.9" x2="1449" y2="691.9" stroke="#000" stroke-width="1.5" stroke-linecap="butt"/>
<line x1="1562.5" y1="618.6" x2="1562.5" y2="651" stroke="#000" stroke-width="1.5" stroke-linecap="butt"/>
<line x1="1558.5" y1="618.6" x2="1566.5" y2="618.6" stroke="#000" stroke-width="1.5" stroke-linecap="butt"/>
<line x1="1562.5" y1="708" x2="1562.5" y2="719" stroke="#000" stroke-width="1.5" stroke-linecap="butt"/>
<line x1="1558.5" y1="708" x2="1566.5" y2="708" stroke="#000" stroke-width="1.5" stroke-linecap="butt"/>
<line x1="1558.5" y1="719" x2="1566.5" y2="719" stroke="#000" stroke-width="1.5" stroke-linecap="butt"/>
<line x1="1210.7" y1="656" x2="1210.7" y2="670" stroke="#000" stroke-width="1.5" stroke-linecap="butt"/>
<line x1="1207.7" y1="656" x2="1213.7" y2="656" stroke="#000" stroke-width="1.5" stroke-linecap="butt"/>
<path d="M1210.7,665.6 C1220.7,641.52 1251.05,534.43 1270.7,521.1 C1290.35,507.77 1299.55,569.35 1328.6,585.6 C1357.65,601.85 1406.02,608.27 1445,618.6 C1483.98,628.93 1542.92,642.77 1562.5,647.6" fill="none" stroke="#0000ff" stroke-width="4.4" stroke-linecap="round" stroke-linejoin="round"/>
<path d="M1210.7,718.4 C1220.7,688.15 1251.05,556.13 1270.7,536.9 C1290.35,517.67 1299.55,578.98 1328.6,603 C1357.65,627.02 1406.02,662.95 1445,681 C1483.98,699.05 1542.92,706.25 1562.5,711.3" fill="none" stroke="#ff0000" stroke-width="4.4" stroke-linecap="round" stroke-linejoin="round"/>
<path d="M1210.7,661.6 l4,4 l-4,4 l-4,-4 z" fill="#0000ff"/>
<path d="M1270.7,517.1 l4,4 l-4,4 l-4,-4 z" fill="#0000ff"/>
<path d="M1328.6,581.6 l4,4 l-4,4 l-4,-4 z" fill="#0000ff"/>
<path d="M1445,614.6 l4,4 l-4,4 l-4,-4 z" fill="#0000ff"/>
<path d="M1562.5,643.6 l4,4 l-4,4 l-4,-4 z" fill="#0000ff"/>
<rect x="1207.2" y="714.9" width="7" height="7" fill="#ff0000"/>
<rect x="1267.2" y="533.4" width="7" height="7" fill="#ff0000"/>
<rect x="1325.1" y="599.5" width="7" height="7" fill="#ff0000"/>
<rect x="1441.5" y="677.5" width="7" height="7" fill="#ff0000"/>
<rect x="1559" y="707.8" width="7" height="7" fill="#ff0000"/>
<rect x="1236.6" y="440.6" width="17" height="17.9" fill="#0000ff" stroke="none" stroke-width="1.5" rx="2.5"/>
<rect x="1236.6" y="463.4" width="17" height="17.9" fill="#ff0000" stroke="none" stroke-width="1.5" rx="2.5"/>
<text x="1265.2" y="454.5" font-size="19.5" font-weight="bold" font-style="italic" textLength="81.5" lengthAdjust="spacingAndGlyphs">Wdr76<tspan dy="-4.68" font-size="13.26">+/+</tspan></text>
<text x="1265.2" y="476.6" font-size="19.5" font-weight="bold" font-style="italic" textLength="73.5" lengthAdjust="spacingAndGlyphs">Wdr76<tspan dy="-4.68" font-size="13.26">-/-</tspan></text>
<text x="1442.3" y="586.92" font-size="17.5" font-weight="bold" text-anchor="middle" font-family="DejaVu Sans, Liberation Sans, sans-serif">**</text>
<text x="1558.4" y="610.92" font-size="17.5" font-weight="bold" text-anchor="middle" font-family="DejaVu Sans, Liberation Sans, sans-serif">**</text>
<text x="1662.8" y="751" font-size="22" font-weight="bold" transform="rotate(-90 1662.8 751)" textLength="284.5" lengthAdjust="spacingAndGlyphs">Glucose  AUC  <tspan font-size="19.5">(g/dl*180min)</tspan></text>
<line x1="1731" y1="485.45" x2="1731" y2="732.35" stroke="#000" stroke-width="1.5" stroke-linecap="butt"/>
<line x1="1724" y1="486.2" x2="1731" y2="486.2" stroke="#000" stroke-width="1.5" stroke-linecap="butt"/>
<text x="1713" y="492" font-size="16.4" text-anchor="end" textLength="19.4" lengthAdjust="spacingAndGlyphs" stroke="#000" stroke-width="0.55">80</text>
<line x1="1724" y1="546.9" x2="1731" y2="546.9" stroke="#000" stroke-width="1.5" stroke-linecap="butt"/>
<text x="1713" y="552.7" font-size="16.4" text-anchor="end" textLength="19.4" lengthAdjust="spacingAndGlyphs" stroke="#000" stroke-width="0.55">60</text>
<line x1="1724" y1="608.6" x2="1731" y2="608.6" stroke="#000" stroke-width="1.5" stroke-linecap="butt"/>
<text x="1713" y="614.4" font-size="16.4" text-anchor="end" textLength="19.4" lengthAdjust="spacingAndGlyphs" stroke="#000" stroke-width="0.55">40</text>
<line x1="1724" y1="669.9" x2="1731" y2="669.9" stroke="#000" stroke-width="1.5" stroke-linecap="butt"/>
<text x="1713" y="675.7" font-size="16.4" text-anchor="end" textLength="19.4" lengthAdjust="spacingAndGlyphs" stroke="#000" stroke-width="0.55">20</text>
<line x1="1724" y1="731.6" x2="1731" y2="731.6" stroke="#000" stroke-width="1.5" stroke-linecap="butt"/>
<text x="1713" y="737.4" font-size="16.4" text-anchor="end" textLength="9.7" lengthAdjust="spacingAndGlyphs" stroke="#000" stroke-width="0.55">0</text>
<line x1="1724" y1="731.6" x2="1882.75" y2="731.6" stroke="#000" stroke-width="1.5" stroke-linecap="butt"/>
<line x1="1806.6" y1="724.6" x2="1806.6" y2="731.6" stroke="#000" stroke-width="1.5" stroke-linecap="butt"/>
<line x1="1882" y1="724.6" x2="1882" y2="731.6" stroke="#000" stroke-width="1.5" stroke-linecap="butt"/>
<line x1="1769.15" y1="514.9" x2="1769.15" y2="535.6" stroke="#000" stroke-width="1.5" stroke-linecap="butt"/>
<line x1="1764.65" y1="514.9" x2="1773.65" y2="514.9" stroke="#000" stroke-width="1.5" stroke-linecap="butt"/>
<rect x="1750.4" y="535.6" width="37.5" height="196" fill="#0000ff" stroke="#000" stroke-width="1.5" rx="0"/>
<line x1="1844.5" y1="573.1" x2="1844.5" y2="583" stroke="#000" stroke-width="1.5" stroke-linecap="butt"/>
<line x1="1840" y1="573.1" x2="1849" y2="573.1" stroke="#000" stroke-width="1.5" stroke-linecap="butt"/>
<rect x="1825.4" y="583" width="38.2" height="148.6" fill="#ff0000" stroke="#000" stroke-width="1.5" rx="0"/>
<text x="1841.8" y="561.56" font-size="16" text-anchor="middle" font-family="DejaVu Sans, Liberation Sans, sans-serif">* *</text>
<text x="1065" y="844.3" font-size="25" font-weight="bold">j</text>
<text x="1110.6" y="888.6" font-size="21" font-weight="bold" textLength="33" lengthAdjust="spacingAndGlyphs">ITT</text>
<text x="1118.7" y="1129.7" font-size="22" font-weight="bold" transform="rotate(-90 1118.7 1129.7)" textLength="178.7" lengthAdjust="spacingAndGlyphs">Glucose (mg/dl)</text>
<line x1="1221.3" y1="916.15" x2="1221.3" y2="1154.35" stroke="#000" stroke-width="1.5" stroke-linecap="butt"/>
<line x1="1214.3" y1="916.9" x2="1221.3" y2="916.9" stroke="#000" stroke-width="1.5" stroke-linecap="butt"/>
<text x="1206" y="922.7" font-size="16.4" text-anchor="end" textLength="29.1" lengthAdjust="spacingAndGlyphs" stroke="#000" stroke-width="0.55">250</text>
<line x1="1214.3" y1="975.4" x2="1221.3" y2="975.4" stroke="#000" stroke-width="1.5" stroke-linecap="butt"/>
<text x="1206" y="981.2" font-size="16.4" text-anchor="end" textLength="29.1" lengthAdjust="spacingAndGlyphs" stroke="#000" stroke-width="0.55">200</text>
<line x1="1214.3" y1="1034.7" x2="1221.3" y2="1034.7" stroke="#000" stroke-width="1.5" stroke-linecap="butt"/>
<text x="1206" y="1040.5" font-size="16.4" text-anchor="end" textLength="29.1" lengthAdjust="spacingAndGlyphs" stroke="#000" stroke-width="0.55">150</text>
<line x1="1214.3" y1="1094.3" x2="1221.3" y2="1094.3" stroke="#000" stroke-width="1.5" stroke-linecap="butt"/>
<text x="1206" y="1100.1" font-size="16.4" text-anchor="end" textLength="29.1" lengthAdjust="spacingAndGlyphs" stroke="#000" stroke-width="0.55">100</text>
<line x1="1214.3" y1="1153.6" x2="1221.3" y2="1153.6" stroke="#000" stroke-width="1.5" stroke-linecap="butt"/>
<text x="1206" y="1159.4" font-size="16.4" text-anchor="end" textLength="19.4" lengthAdjust="spacingAndGlyphs" stroke="#000" stroke-width="0.55">50</text>
<line x1="1220.7" y1="1153.6" x2="1559" y2="1153.6" stroke="#000" stroke-width="1.5" stroke-linecap="butt"/>
<line x1="1221.3" y1="1153.6" x2="1221.3" y2="1159.6" stroke="#000" stroke-width="1.5" stroke-linecap="butt"/>
<line x1="1333.7" y1="1153.6" x2="1333.7" y2="1159.6" stroke="#000" stroke-width="1.5" stroke-linecap="butt"/>
<line x1="1445.7" y1="1153.6" x2="1445.7" y2="1159.6" stroke="#000" stroke-width="1.5" stroke-linecap="butt"/>
<line x1="1558.4" y1="1153.6" x2="1558.4" y2="1159.6" stroke="#000" stroke-width="1.5" stroke-linecap="butt"/>
<text x="1222" y="1183.5" font-size="16.4" text-anchor="middle" textLength="9.7" lengthAdjust="spacingAndGlyphs" stroke="#000" stroke-width="0.55">0</text>
<text x="1334" y="1183.5" font-size="16.4" text-anchor="middle" textLength="19.4" lengthAdjust="spacingAndGlyphs" stroke="#000" stroke-width="0.55">60</text>
<text x="1446" y="1183.5" font-size="16.4" text-anchor="middle" textLength="29.1" lengthAdjust="spacingAndGlyphs" stroke="#000" stroke-width="0.55">120</text>
<text x="1559" y="1183.5" font-size="16.4" text-anchor="middle" textLength="29.1" lengthAdjust="spacingAndGlyphs" stroke="#000" stroke-width="0.55">180</text>
<text x="1383" y="1226.8" font-size="20.5" font-weight="bold" text-anchor="middle" textLength="99" lengthAdjust="spacingAndGlyphs">Time (min)</text>
<line x1="1278.9" y1="1088" x2="1278.9" y2="1092.9" stroke="#000" stroke-width="1.5" stroke-linecap="butt"/>
<line x1="1274.9" y1="1088" x2="1282.9" y2="1088" stroke="#000" stroke-width="1.5" stroke-linecap="butt"/>
<line x1="1278.2" y1="1111.3" x2="1278.2" y2="1115.5" stroke="#000" stroke-width="1.5" stroke-linecap="butt"/>
<line x1="1274.2" y1="1115.5" x2="1282.2" y2="1115.5" stroke="#000" stroke-width="1.5" stroke-linecap="butt"/>
<line x1="1333.7" y1="1087" x2="1333.7" y2="1099.7" stroke="#000" stroke-width="1.5" stroke-linecap="butt"/>
<line x1="1329.7" y1="1087" x2="1337.7" y2="1087" stroke="#000" stroke-width="1.5" stroke-linecap="butt"/>
<line x1="1445.7" y1="1048.7" x2="1445.7" y2="1055.8" stroke="#000" stroke-width="1.5" stroke-linecap="butt"/>
<line x1="1441.7" y1="1048.7" x2="1449.7" y2="1048.7" stroke="#000" stroke-width="1.5" stroke-linecap="butt"/>
<line x1="1445.7" y1="1083.7" x2="1445.7" y2="1093" stroke="#000" stroke-width="1.5" stroke-linecap="butt"/>
<line x1="1441.7" y1="1093" x2="1449.7" y2="1093" stroke="#000" stroke-width="1.5" stroke-linecap="butt"/>
<line x1="1558.4" y1="958.8" x2="1558.4" y2="987.4" stroke="#000" stroke-width="1.5" stroke-linecap="butt"/>
<line x1="1554.4" y1="958.8" x2="1562.4" y2="958.8" stroke="#000" stroke-width="1.5" stroke-linecap="butt"/>
<line x1="1558.4" y1="1035" x2="1558.4" y2="1043.2" stroke="#000" stroke-width="1.5" stroke-linecap="butt"/>
<line x1="1554.4" y1="1043.2" x2="1562.4" y2="1043.2" stroke="#000" stroke-width="1.5" stroke-linecap="butt"/>
<line x1="1221.3" y1="990.1" x2="1221.3" y2="998" stroke="#000" stroke-width="1.5" stroke-linecap="butt"/>
<line x1="1218.3" y1="998" x2="1224.3" y2="998" stroke="#000" stroke-width="1.5" stroke-linecap="butt"/>
<path d="M1221.3,959.4 C1230.9,981.65 1260.17,1069.52 1278.9,1092.9 C1297.63,1116.28 1305.9,1105.88 1333.7,1099.7 C1361.5,1093.52 1408.25,1074.52 1445.7,1055.8 C1483.15,1037.08 1539.62,998.8 1558.4,987.4" fill="none" stroke="#0000ff" stroke-width="4.4" stroke-linecap="round" stroke-linejoin="round"/>
<path d="M1221.3,990.1 C1230.78,1010.3 1259.47,1089.73 1278.2,1111.3 C1296.93,1132.87 1305.78,1124.1 1333.7,1119.5 C1361.62,1114.9 1408.25,1097.78 1445.7,1083.7 C1483.15,1069.62 1539.62,1043.12 1558.4,1035" fill="none" stroke="#ff0000" stroke-width="4.4" stroke-linecap="round" stroke-linejoin="round"/>
<path d="M1221.3,955.4 l4,4 l-4,4 l-4,-4 z" fill="#0000ff"/>
<path d="M1278.9,1088.9 l4,4 l-4,4 l-4,-4 z" fill="#0000ff"/>
<path d="M1333.7,1095.7 l4,4 l-4,4 l-4,-4 z" fill="#0000ff"/>
<path d="M1445.7,1051.8 l4,4 l-4,4 l-4,-4 z" fill="#0000ff"/>
<path d="M1558.4,983.4 l4,4 l-4,4 l-4,-4 z" fill="#0000ff"/>
<rect x="1217.8" y="986.6" width="7" height="7" fill="#ff0000"/>
<rect x="1274.7" y="1107.8" width="7" height="7" fill="#ff0000"/>
<rect x="1330.2" y="1116" width="7" height="7" fill="#ff0000"/>
<rect x="1442.2" y="1080.2" width="7" height="7" fill="#ff0000"/>
<rect x="1554.9" y="1031.5" width="7" height="7" fill="#ff0000"/>
<rect x="1236.6" y="873" width="17" height="17.9" fill="#0000ff" stroke="none" stroke-width="1.5" rx="2.5"/>
<rect x="1236.6" y="894.4" width="17" height="17.9" fill="#ff0000" stroke="none" stroke-width="1.5" rx="2.5"/>
<text x="1265.2" y="886.2" font-size="19.5" font-weight="bold" font-style="italic" textLength="81.5" lengthAdjust="spacingAndGlyphs">Wdr76<tspan dy="-4.68" font-size="13.26">+/+</tspan></text>
<text x="1265.2" y="908.4" font-size="19.5" font-weight="bold" font-style="italic" textLength="73.5" lengthAdjust="spacingAndGlyphs">Wdr76<tspan dy="-4.68" font-size="13.26">-/-</tspan></text>
<text x="1550" y="956.92" font-size="17.5" font-weight="bold" text-anchor="middle" font-family="DejaVu Sans, Liberation Sans, sans-serif">**</text>
<text x="1444" y="1039.92" font-size="17.5" font-weight="bold" text-anchor="middle" font-family="DejaVu Sans, Liberation Sans, sans-serif">*</text>
<text x="1662.8" y="1179.4" font-size="22" font-weight="bold" transform="rotate(-90 1662.8 1179.4)" textLength="282.9" lengthAdjust="spacingAndGlyphs">Glucose  AUC  <tspan font-size="19.5">(g/dl*180min)</tspan></text>
<line x1="1731" y1="916.55" x2="1731" y2="1163.75" stroke="#000" stroke-width="1.5" stroke-linecap="butt"/>
<line x1="1724" y1="917.3" x2="1731" y2="917.3" stroke="#000" stroke-width="1.5" stroke-linecap="butt"/>
<text x="1713" y="923.1" font-size="16.4" text-anchor="end" textLength="19.4" lengthAdjust="spacingAndGlyphs" stroke="#000" stroke-width="0.55">40</text>
<line x1="1724" y1="978.3" x2="1731" y2="978.3" stroke="#000" stroke-width="1.5" stroke-linecap="butt"/>
<text x="1713" y="984.1" font-size="16.4" text-anchor="end" textLength="19.4" lengthAdjust="spacingAndGlyphs" stroke="#000" stroke-width="0.55">30</text>
<line x1="1724" y1="1040.3" x2="1731" y2="1040.3" stroke="#000" stroke-width="1.5" stroke-linecap="butt"/>
<text x="1713" y="1046.1" font-size="16.4" text-anchor="end" textLength="19.4" lengthAdjust="spacingAndGlyphs" stroke="#000" stroke-width="0.55">20</text>
<line x1="1724" y1="1101.7" x2="1731" y2="1101.7" stroke="#000" stroke-width="1.5" stroke-linecap="butt"/>
<text x="1713" y="1107.5" font-size="16.4" text-anchor="end" textLength="19.4" lengthAdjust="spacingAndGlyphs" stroke="#000" stroke-width="0.55">10</text>
<line x1="1724" y1="1163" x2="1731" y2="1163" stroke="#000" stroke-width="1.5" stroke-linecap="butt"/>
<text x="1713" y="1168.8" font-size="16.4" text-anchor="end" textLength="9.7" lengthAdjust="spacingAndGlyphs" stroke="#000" stroke-width="0.55">0</text>
<line x1="1724" y1="1163" x2="1882.75" y2="1163" stroke="#000" stroke-width="1.5" stroke-linecap="butt"/>
<line x1="1806.6" y1="1156" x2="1806.6" y2="1163" stroke="#000" stroke-width="1.5" stroke-linecap="butt"/>
<line x1="1882" y1="1156" x2="1882" y2="1163" stroke="#000" stroke-width="1.5" stroke-linecap="butt"/>
<line x1="1769.15" y1="963" x2="1769.15" y2="985.1" stroke="#000" stroke-width="1.5" stroke-linecap="butt"/>
<line x1="1764.65" y1="963" x2="1773.65" y2="963" stroke="#000" stroke-width="1.5" stroke-linecap="butt"/>
<rect x="1750.4" y="985.1" width="37.5" height="177.9" fill="#0000ff" stroke="#000" stroke-width="1.5" rx="0"/>
<line x1="1844.5" y1="1020.9" x2="1844.5" y2="1029.4" stroke="#000" stroke-width="1.5" stroke-linecap="butt"/>
<line x1="1840" y1="1020.9" x2="1849" y2="1020.9" stroke="#000" stroke-width="1.5" stroke-linecap="butt"/>
<rect x="1825.4" y="1029.4" width="38.2" height="133.6" fill="#ff0000" stroke="#000" stroke-width="1.5" rx="0"/>
<text x="1845.2" y="1008.66" font-size="16" text-anchor="middle" font-family="DejaVu Sans, Liberation Sans, sans-serif">*</text>
</svg>
</body></html>
